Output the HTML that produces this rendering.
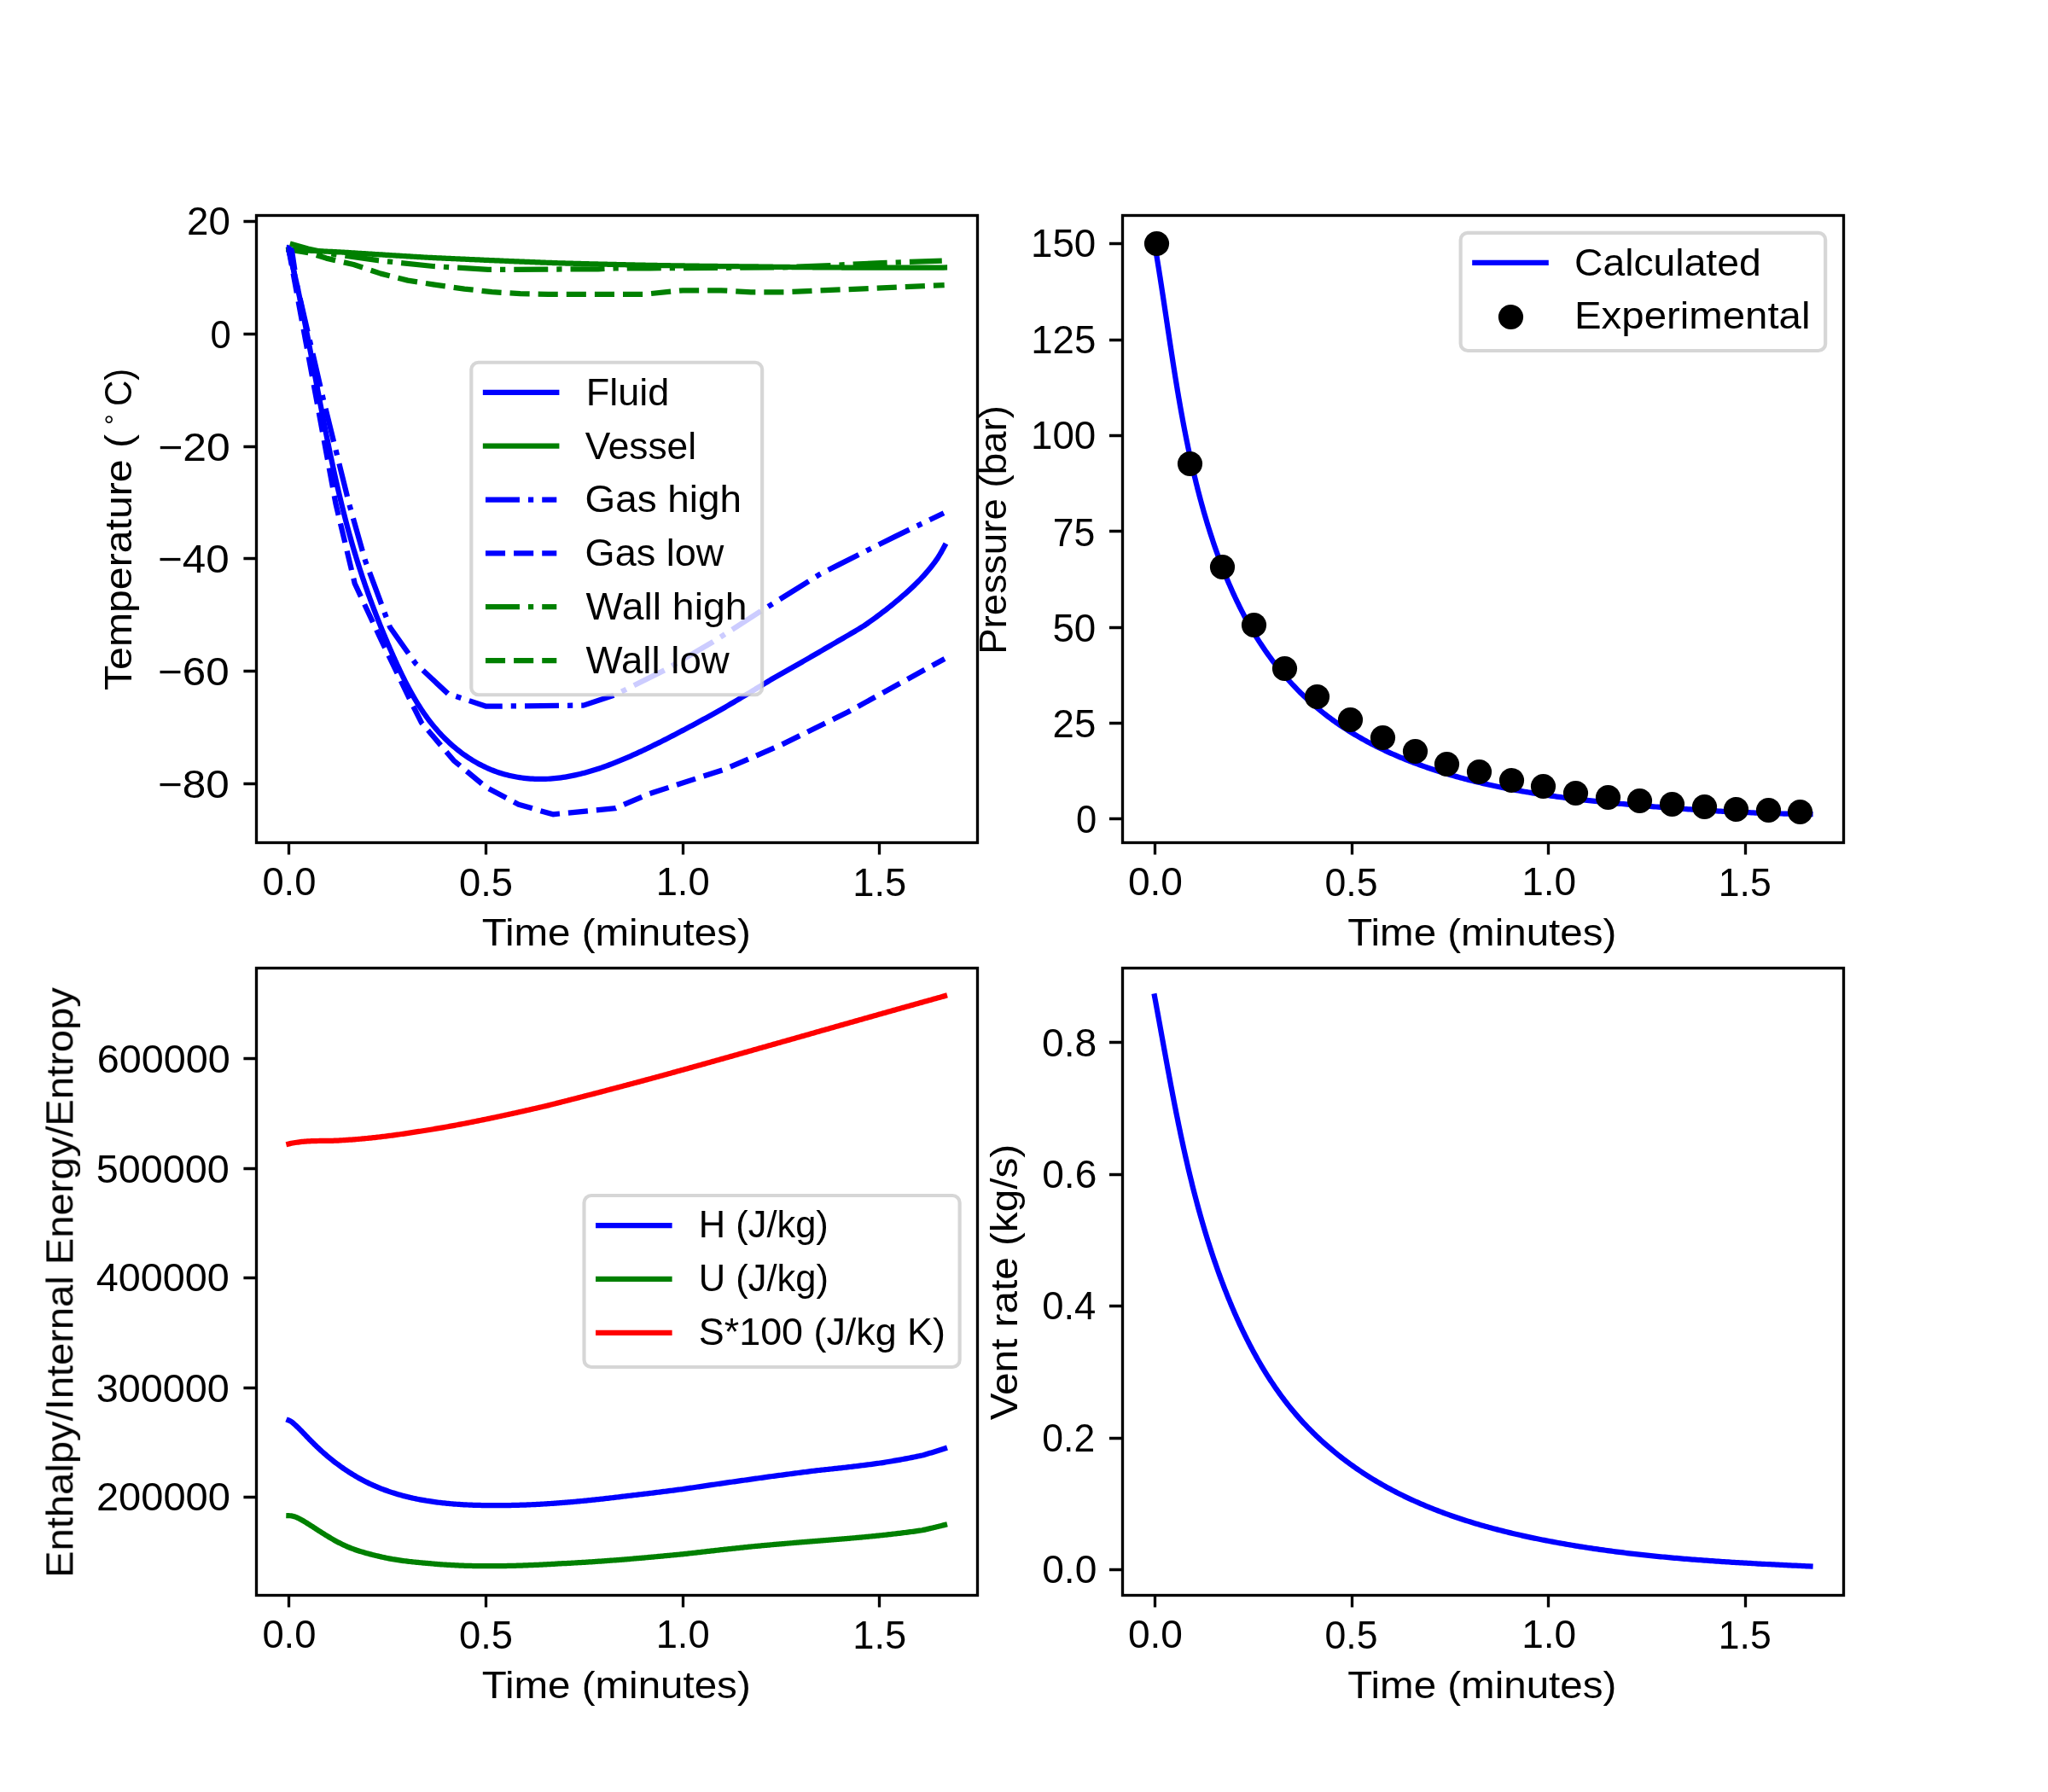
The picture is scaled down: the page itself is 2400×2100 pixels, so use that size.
<!DOCTYPE html>
<html lang="en"><head><meta charset="utf-8"><title>Blowdown validation plots</title>
<style>html,body{margin:0;padding:0;background:#ffffff}svg{display:block}text{font-family:"Liberation Sans",sans-serif;fill:#000000}</style></head>
<body>
<svg xmlns="http://www.w3.org/2000/svg" width="2400" height="2100" viewBox="0 0 2400 2100">
<rect x="0" y="0" width="2400" height="2100" fill="#ffffff"/>
<g id="axes1">
<clipPath id="clip1"><rect x="300" y="252" width="845.45" height="735"/></clipPath>
<path d="M338.5 987V1001.58M569.5 987V1001.58M800.5 987V1001.58M1030.5 987V1001.58M300 918.5H285.42M300 786.5H285.42M300 654.5H285.42M300 523.5H285.42M300 391.5H285.42M300 259.5H285.42" stroke="#000000" stroke-width="3.33" fill="none"/>
<g clip-path="url(#clip1)"><path d="M338.4 292.5 L339.01 295 L339.62 297.5 L340.23 300 L340.83 302.51 L341.43 305.01 L342.02 307.52 L342.61 310.03 L343.19 312.54 L343.77 315.05 L344.35 317.56 L344.92 320.07 L345.49 322.59 L346.06 325.1 L346.62 327.62 L347.18 330.14 L347.73 332.66 L348.28 335.18 L348.83 337.7 L349.37 340.22 L349.92 342.74 L350.45 345.27 L350.99 347.79 L351.52 350.32 L352.05 352.85 L352.58 355.38 L353.1 357.91 L353.62 360.44 L354.14 362.97 L354.66 365.5 L355.18 368.03 L355.69 370.57 L356.2 373.1 L356.7 375.63 L357.21 378.17 L357.71 380.71 L358.22 383.24 L358.72 385.78 L359.21 388.32 L359.71 390.86 L360.21 393.4 L360.7 395.94 L361.19 398.48 L361.68 401.02 L362.17 403.56 L362.66 406.1 L363.15 408.64 L363.63 411.18 L364.12 413.73 L364.6 416.27 L365.09 418.81 L365.57 421.36 L366.05 423.9 L366.53 426.44 L367.01 428.99 L367.49 431.53 L367.97 434.08 L368.45 436.62 L368.93 439.17 L369.41 441.71 L369.89 444.26 L370.37 446.8 L370.85 449.34 L371.33 451.89 L371.81 454.43 L372.29 456.98 L372.77 459.52 L373.26 462.07 L373.74 464.61 L374.22 467.16 L374.71 469.7 L375.19 472.24 L375.68 474.79 L376.16 477.33 L376.65 479.87 L377.14 482.42 L377.63 484.96 L378.12 487.5 L378.61 490.04 L379.11 492.58 L379.6 495.12 L380.1 497.66 L380.6 500.2 L381.1 502.74 L381.6 505.28 L382.11 507.82 L382.61 510.35 L383.12 512.89 L383.63 515.42 L384.15 517.96 L384.66 520.49 L385.18 523.03 L385.7 525.56 L386.22 528.09 L386.75 530.62 L387.28 533.16 L387.81 535.68 L388.34 538.21 L388.88 540.74 L389.42 543.27 L389.96 545.79 L390.51 548.32 L391.06 550.84 L391.61 553.37 L392.17 555.89 L392.73 558.41 L393.29 560.93 L393.86 563.45 L394.43 565.97 L395 568.48 L395.58 571 L396.16 573.51 L396.75 576.02 L397.34 578.53 L397.93 581.04 L398.53 583.55 L399.14 586.06 L399.74 588.57 L400.35 591.07 L400.97 593.57 L401.59 596.08 L402.22 598.58 L402.85 601.07 L403.49 603.57 L404.13 606.07 L404.77 608.56 L405.42 611.05 L406.08 613.54 L406.74 616.03 L407.41 618.52 L408.08 621.01 L408.76 623.49 L409.44 625.97 L410.13 628.45 L410.83 630.93 L411.53 633.41 L412.23 635.88 L412.95 638.36 L413.67 640.83 L414.39 643.3 L415.12 645.76 L415.86 648.23 L416.6 650.69 L417.35 653.15 L418.11 655.61 L418.87 658.07 L419.64 660.52 L420.42 662.98 L421.21 665.43 L422 667.88 L422.79 670.32 L423.6 672.77 L424.41 675.21 L425.22 677.65 L426.04 680.09 L426.87 682.53 L427.71 684.96 L428.55 687.4 L429.4 689.83 L430.26 692.26 L431.12 694.69 L431.99 697.11 L432.87 699.54 L433.75 701.96 L434.64 704.38 L435.53 706.8 L436.43 709.22 L437.34 711.63 L438.25 714.05 L439.17 716.46 L440.1 718.87 L441.03 721.28 L441.97 723.69 L442.92 726.1 L443.87 728.5 L444.83 730.91 L445.8 733.31 L446.77 735.71 L447.75 738.11 L448.73 740.51 L449.72 742.9 L450.72 745.3 L451.73 747.69 L452.74 750.08 L453.75 752.48 L454.77 754.87 L455.8 757.25 L456.84 759.64 L457.88 762.03 L458.93 764.41 L459.98 766.8 L461.04 769.18 L462.11 771.56 L463.18 773.94 L464.26 776.32 L465.35 778.69 L466.45 781.07 L467.55 783.43 L468.67 785.8 L469.79 788.16 L470.93 790.51 L472.08 792.86 L473.24 795.2 L474.41 797.53 L475.59 799.86 L476.79 802.18 L478 804.49 L479.22 806.79 L480.46 809.08 L481.72 811.36 L482.99 813.63 L484.28 815.89 L485.58 818.14 L486.9 820.38 L488.24 822.6 L489.6 824.81 L490.98 827.01 L492.37 829.19 L493.79 831.36 L495.23 833.51 L496.69 835.65 L498.17 837.77 L499.67 839.88 L501.19 841.97 L502.74 844.04 L504.31 846.09 L505.91 848.12 L507.53 850.13 L509.18 852.13 L510.85 854.1 L512.55 856.05 L514.27 857.98 L516.03 859.89 L517.8 861.78 L519.61 863.64 L521.44 865.48 L523.29 867.3 L525.17 869.08 L527.08 870.85 L529.01 872.58 L530.96 874.29 L532.94 875.97 L534.94 877.62 L536.96 879.24 L539 880.83 L541.07 882.39 L543.16 883.92 L545.27 885.41 L547.4 886.87 L549.56 888.3 L551.73 889.7 L553.92 891.05 L556.13 892.37 L558.37 893.66 L560.62 894.91 L562.89 896.12 L565.18 897.29 L567.48 898.42 L569.81 899.51 L572.15 900.56 L574.51 901.57 L576.88 902.54 L579.28 903.46 L581.68 904.34 L584.11 905.18 L586.54 905.97 L589 906.72 L591.46 907.42 L593.94 908.08 L596.42 908.7 L598.92 909.28 L601.43 909.81 L603.94 910.31 L606.47 910.76 L608.99 911.16 L611.53 911.53 L614.07 911.85 L616.61 912.14 L619.16 912.38 L621.71 912.58 L624.26 912.74 L626.82 912.86 L629.37 912.94 L631.92 912.98 L634.47 912.98 L637.02 912.94 L639.56 912.87 L642.11 912.75 L644.65 912.6 L647.19 912.41 L649.73 912.19 L652.27 911.93 L654.8 911.64 L657.33 911.31 L659.86 910.95 L662.39 910.56 L664.91 910.13 L667.43 909.68 L669.95 909.19 L672.47 908.68 L674.98 908.14 L677.49 907.56 L680 906.96 L682.5 906.34 L685 905.69 L687.5 905.01 L689.99 904.3 L692.48 903.58 L694.97 902.83 L697.45 902.05 L699.93 901.26 L702.4 900.44 L704.88 899.6 L707.34 898.74 L709.81 897.86 L712.27 896.97 L714.72 896.05 L717.17 895.12 L719.62 894.17 L722.06 893.2 L724.5 892.22 L726.93 891.23 L729.36 890.21 L731.78 889.19 L734.2 888.15 L736.61 887.11 L739.02 886.04 L741.43 884.97 L743.83 883.89 L746.22 882.8 L748.61 881.7 L750.99 880.59 L753.37 879.48 L755.74 878.36 L758.1 877.23 L760.46 876.09 L762.82 874.96 L765.16 873.81 L767.51 872.66 L769.84 871.51 L772.18 870.35 L774.5 869.19 L776.82 868.03 L779.14 866.85 L781.45 865.68 L783.76 864.5 L786.06 863.31 L788.36 862.13 L790.65 860.93 L792.94 859.74 L795.22 858.53 L797.51 857.33 L799.78 856.12 L802.05 854.93 L804.32 853.74 L806.59 852.55 L808.85 851.35 L811.11 850.15 L813.36 848.94 L815.61 847.73 L817.86 846.52 L820.1 845.31 L822.34 844.09 L824.58 842.86 L826.82 841.64 L829.05 840.41 L831.28 839.17 L833.51 837.94 L835.74 836.7 L837.96 835.45 L840.19 834.21 L842.41 832.96 L844.62 831.71 L846.84 830.45 L849.06 829.19 L851.27 827.91 L853.48 826.61 L855.69 825.31 L857.9 824 L860.11 822.69 L862.32 821.38 L864.52 820.06 L866.73 818.75 L868.93 817.43 L871.14 816.1 L873.34 814.78 L875.55 813.45 L877.75 812.13 L879.95 810.8 L882.16 809.46 L884.36 808.13 L886.56 806.79 L888.77 805.45 L890.97 804.11 L893.18 802.77 L895.38 801.43 L897.59 800.08 L899.79 798.74 L902 797.39 L904.21 796.04 L906.42 794.75 L908.63 793.51 L910.84 792.26 L913.05 791 L915.26 789.75 L917.47 788.5 L919.68 787.24 L921.89 785.99 L924.1 784.73 L926.32 783.47 L928.53 782.21 L930.74 780.95 L932.96 779.69 L935.17 778.43 L937.38 777.17 L939.6 775.91 L941.81 774.64 L944.03 773.38 L946.24 772.11 L948.46 770.84 L950.67 769.56 L952.88 768.27 L955.1 766.99 L957.31 765.7 L959.53 764.42 L961.74 763.13 L963.96 761.85 L966.17 760.56 L968.39 759.27 L970.6 757.99 L972.81 756.7 L975.03 755.41 L977.24 754.13 L979.46 752.84 L981.67 751.55 L983.88 750.27 L986.09 748.98 L988.3 747.69 L990.52 746.41 L992.72 745.12 L994.93 743.83 L997.14 742.53 L999.34 741.24 L1001.54 739.94 L1003.73 738.63 L1005.92 737.33 L1008.11 736.01 L1010.29 734.69 L1012.47 733.37 L1014.64 731.87 L1016.8 730.34 L1018.96 728.81 L1021.12 727.28 L1023.26 725.73 L1025.4 724.18 L1027.53 722.62 L1029.65 721.04 L1031.76 719.46 L1033.87 717.87 L1035.96 716.27 L1038.04 714.66 L1040.12 713.03 L1042.18 711.39 L1044.23 709.74 L1046.27 708.08 L1048.3 706.4 L1050.32 704.71 L1052.32 703.01 L1054.31 701.29 L1056.29 699.58 L1058.25 697.93 L1060.2 696.26 L1062.13 694.57 L1064.04 692.87 L1065.95 691.14 L1067.83 689.4 L1069.7 687.64 L1071.55 685.87 L1073.38 684.07 L1075.19 682.25 L1076.99 680.42 L1078.77 678.56 L1080.53 676.69 L1082.26 674.79 L1083.98 672.87 L1085.68 670.93 L1087.35 668.97 L1089.01 666.98 L1090.64 664.98 L1092.25 662.95 L1093.83 660.89 L1095.4 658.81 L1096.93 656.71 L1098.45 654.58 L1099.94 652.2 L1101.4 649.76 L1102.84 647.3 L1104.25 644.82 L1105.64 642.32 L1107 639.8" fill="none" stroke="#0000ff" stroke-width="6.25" stroke-linecap="square" stroke-linejoin="round"/>
<path d="M338.4 292.5 L339.94 292.57 L341.48 292.65 L343.02 292.73 L344.56 292.8 L346.09 292.88 L347.63 292.95 L349.17 293.03 L350.71 293.1 L352.25 293.18 L353.79 293.25 L355.33 293.33 L356.87 293.4 L358.41 293.48 L359.95 293.55 L361.48 293.63 L363.02 293.7 L364.56 293.78 L366.1 293.85 L367.64 293.93 L369.18 294 L370.72 294.08 L372.26 294.15 L373.8 294.23 L375.34 294.3 L376.87 294.38 L378.41 294.45 L379.95 294.53 L381.49 294.6 L383.03 294.68 L384.57 294.75 L386.11 294.83 L387.65 294.9 L389.19 294.98 L390.73 295.05 L392.27 295.12 L393.8 295.2 L395.34 295.27 L396.88 295.35 L398.42 295.42 L399.96 295.5 L401.5 295.59 L403.04 295.69 L404.58 295.79 L406.12 295.88 L407.66 295.98 L409.2 296.08 L410.74 296.18 L412.27 296.27 L413.81 296.37 L415.35 296.47 L416.89 296.56 L418.43 296.66 L419.97 296.76 L421.51 296.85 L423.05 296.95 L424.59 297.05 L426.13 297.14 L427.67 297.24 L429.21 297.33 L430.74 297.43 L432.28 297.53 L433.82 297.62 L435.36 297.72 L436.9 297.81 L438.44 297.91 L439.98 298.01 L441.52 298.1 L443.06 298.2 L444.6 298.29 L446.14 298.39 L447.68 298.48 L449.22 298.58 L450.76 298.68 L452.29 298.77 L453.83 298.87 L455.37 298.96 L456.91 299.06 L458.45 299.15 L459.99 299.25 L461.53 299.34 L463.07 299.43 L464.61 299.53 L466.15 299.62 L467.69 299.72 L469.23 299.81 L470.77 299.91 L472.31 300 L473.85 300.1 L475.38 300.19 L476.92 300.28 L478.46 300.38 L480 300.47 L481.54 300.56 L483.08 300.66 L484.62 300.75 L486.16 300.84 L487.7 300.94 L489.24 301.03 L490.78 301.12 L492.32 301.22 L493.86 301.31 L495.4 301.4 L496.94 301.5 L498.48 301.59 L500.02 301.68 L501.55 301.75 L503.09 301.83 L504.63 301.9 L506.17 301.97 L507.71 302.04 L509.25 302.11 L510.79 302.19 L512.33 302.26 L513.87 302.33 L515.41 302.4 L516.95 302.47 L518.49 302.54 L520.03 302.61 L521.57 302.68 L523.11 302.76 L524.65 302.83 L526.19 302.9 L527.73 302.97 L529.27 303.04 L530.81 303.11 L532.35 303.18 L533.89 303.25 L535.42 303.32 L536.96 303.39 L538.5 303.46 L540.04 303.53 L541.58 303.6 L543.12 303.67 L544.66 303.74 L546.2 303.81 L547.74 303.87 L549.28 303.94 L550.82 304.01 L552.36 304.08 L553.9 304.15 L555.44 304.22 L556.98 304.29 L558.52 304.35 L560.06 304.42 L561.6 304.49 L563.14 304.56 L564.68 304.62 L566.22 304.69 L567.76 304.76 L569.3 304.83 L570.84 304.89 L572.38 304.96 L573.92 305.03 L575.46 305.09 L577 305.16 L578.54 305.23 L580.08 305.29 L581.62 305.36 L583.16 305.42 L584.69 305.49 L586.23 305.56 L587.77 305.62 L589.31 305.69 L590.85 305.75 L592.39 305.82 L593.93 305.88 L595.47 305.95 L597.01 306.01 L598.55 306.08 L600.09 306.14 L601.63 306.2 L603.17 306.27 L604.71 306.33 L606.25 306.4 L607.79 306.46 L609.33 306.52 L610.87 306.58 L612.41 306.65 L613.95 306.71 L615.49 306.77 L617.03 306.84 L618.57 306.9 L620.11 306.96 L621.65 307.02 L623.19 307.08 L624.73 307.15 L626.27 307.21 L627.81 307.27 L629.35 307.33 L630.89 307.39 L632.43 307.45 L633.97 307.51 L635.51 307.57 L637.05 307.63 L638.59 307.69 L640.13 307.75 L641.67 307.81 L643.21 307.87 L644.75 307.93 L646.29 307.99 L647.83 308.05 L649.37 308.11 L650.91 308.16 L652.45 308.2 L653.99 308.25 L655.53 308.29 L657.07 308.34 L658.61 308.38 L660.15 308.42 L661.69 308.47 L663.23 308.51 L664.77 308.55 L666.31 308.59 L667.85 308.64 L669.39 308.68 L670.93 308.72 L672.47 308.76 L674.01 308.8 L675.55 308.85 L677.09 308.89 L678.63 308.93 L680.17 308.97 L681.71 309.01 L683.25 309.05 L684.79 309.09 L686.33 309.13 L687.87 309.17 L689.41 309.21 L690.95 309.25 L692.49 309.29 L694.03 309.33 L695.58 309.37 L697.12 309.4 L698.66 309.44 L700.2 309.48 L701.74 309.52 L703.28 309.56 L704.82 309.59 L706.36 309.63 L707.9 309.67 L709.44 309.71 L710.98 309.74 L712.52 309.78 L714.06 309.82 L715.6 309.85 L717.14 309.89 L718.68 309.92 L720.22 309.96 L721.76 309.99 L723.3 310.03 L724.84 310.06 L726.38 310.1 L727.92 310.13 L729.46 310.17 L731 310.2 L732.54 310.24 L734.08 310.27 L735.62 310.3 L737.16 310.34 L738.7 310.37 L740.24 310.4 L741.78 310.43 L743.33 310.47 L744.87 310.5 L746.41 310.53 L747.95 310.56 L749.49 310.59 L751.03 310.63 L752.57 310.66 L754.11 310.69 L755.65 310.72 L757.19 310.75 L758.73 310.78 L760.27 310.81 L761.81 310.84 L763.35 310.86 L764.89 310.89 L766.43 310.92 L767.97 310.95 L769.51 310.97 L771.05 311 L772.59 311.03 L774.13 311.05 L775.68 311.08 L777.22 311.11 L778.76 311.13 L780.3 311.16 L781.84 311.18 L783.38 311.21 L784.92 311.23 L786.46 311.26 L788 311.28 L789.54 311.31 L791.08 311.33 L792.62 311.36 L794.16 311.38 L795.7 311.4 L797.24 311.43 L798.78 311.45 L800.32 311.47 L801.87 311.49 L803.41 311.52 L804.95 311.54 L806.49 311.56 L808.03 311.58 L809.57 311.6 L811.11 311.63 L812.65 311.65 L814.19 311.67 L815.73 311.69 L817.27 311.71 L818.81 311.73 L820.35 311.75 L821.89 311.77 L823.43 311.79 L824.98 311.81 L826.52 311.83 L828.06 311.85 L829.6 311.87 L831.14 311.88 L832.68 311.9 L834.22 311.92 L835.76 311.94 L837.3 311.96 L838.84 311.97 L840.38 311.99 L841.92 312.01 L843.46 312.02 L845.01 312.04 L846.55 312.06 L848.09 312.07 L849.63 312.09 L851.17 312.11 L852.71 312.12 L854.25 312.14 L855.79 312.15 L857.33 312.17 L858.87 312.18 L860.41 312.2 L861.95 312.21 L863.5 312.22 L865.04 312.24 L866.58 312.25 L868.12 312.26 L869.66 312.28 L871.2 312.29 L872.74 312.3 L874.28 312.31 L875.82 312.33 L877.36 312.34 L878.9 312.35 L880.44 312.37 L881.99 312.39 L883.53 312.41 L885.07 312.44 L886.61 312.46 L888.15 312.48 L889.69 312.51 L891.23 312.53 L892.77 312.55 L894.31 312.58 L895.85 312.6 L897.39 312.62 L898.94 312.64 L900.48 312.66 L902.02 312.68 L903.56 312.71 L905.1 312.73 L906.64 312.75 L908.18 312.77 L909.72 312.79 L911.26 312.81 L912.8 312.83 L914.35 312.85 L915.89 312.87 L917.43 312.89 L918.97 312.9 L920.51 312.92 L922.05 312.94 L923.59 312.96 L925.13 312.98 L926.67 313 L928.21 313.01 L929.76 313.03 L931.3 313.05 L932.84 313.06 L934.38 313.08 L935.92 313.1 L937.46 313.11 L939 313.13 L940.54 313.14 L942.08 313.16 L943.63 313.18 L945.17 313.19 L946.71 313.21 L948.25 313.22 L949.79 313.23 L951.33 313.25 L952.87 313.26 L954.41 313.28 L955.95 313.29 L957.5 313.3 L959.04 313.32 L960.58 313.33 L962.12 313.34 L963.66 313.35 L965.2 313.37 L966.74 313.38 L968.28 313.39 L969.82 313.4 L971.37 313.41 L972.91 313.42 L974.45 313.43 L975.99 313.44 L977.53 313.45 L979.07 313.46 L980.61 313.47 L982.15 313.48 L983.69 313.49 L985.24 313.5 L986.78 313.51 L988.32 313.52 L989.86 313.53 L991.4 313.54 L992.94 313.55 L994.48 313.55 L996.02 313.56 L997.57 313.57 L999.11 313.58 L1000.65 313.58 L1002.19 313.59 L1003.73 313.6 L1005.27 313.6 L1006.81 313.61 L1008.35 313.61 L1009.9 313.62 L1011.44 313.62 L1012.98 313.63 L1014.52 313.63 L1016.06 313.64 L1017.6 313.64 L1019.14 313.65 L1020.68 313.65 L1022.23 313.65 L1023.77 313.66 L1025.31 313.66 L1026.85 313.66 L1028.39 313.67 L1029.93 313.67 L1031.47 313.67 L1033.01 313.67 L1034.56 313.68 L1036.1 313.68 L1037.64 313.68 L1039.18 313.68 L1040.72 313.68 L1042.26 313.68 L1043.8 313.68 L1045.34 313.68 L1046.89 313.68 L1048.43 313.68 L1049.97 313.68 L1051.51 313.68 L1053.05 313.68 L1054.59 313.68 L1056.13 313.68 L1057.68 313.68 L1059.22 313.67 L1060.76 313.67 L1062.3 313.67 L1063.84 313.67 L1065.38 313.66 L1066.92 313.66 L1068.47 313.66 L1070.01 313.65 L1071.55 313.65 L1073.09 313.65 L1074.63 313.64 L1076.17 313.64 L1077.71 313.63 L1079.25 313.63 L1080.8 313.62 L1082.34 313.62 L1083.88 313.61 L1085.42 313.61 L1086.96 313.6 L1088.5 313.59 L1090.04 313.59 L1091.59 313.58 L1093.13 313.57 L1094.67 313.57 L1096.21 313.56 L1097.75 313.55 L1099.29 313.54 L1100.83 313.54 L1102.38 313.53 L1103.92 313.52 L1105.46 313.51 L1107 313.5" fill="none" stroke="#008000" stroke-width="6.25" stroke-linecap="square" stroke-linejoin="round"/>
<path d="M338.4 292.5 L378.6 467 L409 590 L428 657 L457 735 L487 777.5 L525 813 L569.7 827.7 L683.75 826.6 L721.25 814.1 L779 785.2 L835.3 752.3 L890 717.2 L960 673.4 L983.2 661.6 L1050.2 628.1 L1106 601.3" fill="none" stroke="#0000ff" stroke-width="6.25" stroke-linecap="butt" stroke-linejoin="round" stroke-dasharray="40 10 6.25 10" stroke-dashoffset="7.5"/>
<path d="M338.4 292.5 L362 420 L393.4 590 L415.7 683.75 L447 750.7 L478.2 815.4 L493.8 846.7 L531.8 891.3 L569.7 922.6 L607.7 942.7 L647.9 954.3 L721.5 947.1 L760 930.5 L849.3 901.5 L916.3 872.5 L993.4 834.5 L1107 772" fill="none" stroke="#0000ff" stroke-width="6.25" stroke-linecap="butt" stroke-linejoin="round" stroke-dasharray="23.12 10" stroke-dashoffset="4.6"/>
<path d="M339.8 285.4 L361 291.5 L387.4 297.3 L443 305.2 L507.5 312 L572.2 315.9 L701 315.3 L720 314.5 L915 313.4 L974 311 L1032.5 308.1 L1103.8 305.7" fill="none" stroke="#008000" stroke-width="6.25" stroke-linecap="butt" stroke-linejoin="round" stroke-dasharray="40 10 6.25 10"/>
<path d="M338.4 292.5 L363 296.5 L382.3 302.6 L414.4 310 L446.2 320.6 L477.9 328.6 L511 333.9 L544.3 338.6 L576.5 342.1 L609.7 344.2 L642.5 344.8 L755 344.8 L800 340.3 L845 340.3 L880 342.3 L920 342.3 L1106.7 334.1" fill="none" stroke="#008000" stroke-width="6.25" stroke-linecap="butt" stroke-linejoin="round" stroke-dasharray="23.12 10"/>
<path d="M335.9 287.1L337.7 286.8 344.7 291.8 345.6 296.5 348.5 316 341.8 316 336.8 296.5 335.9 289.2Z" fill="#0000ff"/></g>
<rect x="300.5" y="252.5" width="845" height="735" fill="none" stroke="#000000" stroke-width="3.33" stroke-linejoin="miter"/>
<rect x="552.29" y="424.75" width="340.88" height="389.5" rx="8.33" ry="8.33" fill="#ffffff" fill-opacity="0.8" stroke="#cccccc" stroke-opacity="0.8" stroke-width="4.17"/>
<path d="M568.96 459.83 L652.29 459.83" fill="none" stroke="#0000ff" stroke-width="6.25" stroke-linecap="square" stroke-linejoin="round"/>
<path d="M568.96 522.67 L652.29 522.67" fill="none" stroke="#008000" stroke-width="6.25" stroke-linecap="square" stroke-linejoin="round"/>
<path d="M568.96 585.5 L652.29 585.5" fill="none" stroke="#0000ff" stroke-width="6.25" stroke-linecap="butt" stroke-linejoin="round" stroke-dasharray="40 10 6.25 10"/>
<path d="M568.96 648.33 L652.29 648.33" fill="none" stroke="#0000ff" stroke-width="6.25" stroke-linecap="butt" stroke-linejoin="round" stroke-dasharray="23.12 10"/>
<path d="M568.96 711.17 L652.29 711.17" fill="none" stroke="#008000" stroke-width="6.25" stroke-linecap="butt" stroke-linejoin="round" stroke-dasharray="40 10 6.25 10"/>
<path d="M568.96 774 L652.29 774" fill="none" stroke="#008000" stroke-width="6.25" stroke-linecap="butt" stroke-linejoin="round" stroke-dasharray="23.12 10"/>
</g>
<g id="axes2">
<clipPath id="clip2"><rect x="1314.55" y="252" width="845.45" height="735"/></clipPath>
<path d="M1353.5 987V1001.58M1584.5 987V1001.58M1814.5 987V1001.58M2045.5 987V1001.58M1314.55 959.5H1299.96M1314.55 847.5H1299.96M1314.55 735.5H1299.96M1314.55 622.5H1299.96M1314.55 510.5H1299.96M1314.55 398.5H1299.96M1314.55 285.5H1299.96" stroke="#000000" stroke-width="3.33" fill="none"/>
<g clip-path="url(#clip2)"><path d="M1353 285.4 L1353.4 287.75 L1353.8 290.09 L1354.19 292.44 L1354.59 294.79 L1354.98 297.14 L1355.37 299.49 L1355.75 301.84 L1356.14 304.19 L1356.52 306.54 L1356.9 308.89 L1357.28 311.24 L1357.66 313.59 L1358.03 315.95 L1358.41 318.3 L1358.78 320.65 L1359.15 323.01 L1359.52 325.36 L1359.88 327.72 L1360.25 330.07 L1360.62 332.43 L1360.98 334.78 L1361.34 337.14 L1361.7 339.49 L1362.06 341.85 L1362.42 344.21 L1362.78 346.57 L1363.14 348.92 L1363.5 351.28 L1363.85 353.64 L1364.21 356 L1364.56 358.36 L1364.92 360.71 L1365.27 363.07 L1365.63 365.43 L1365.98 367.79 L1366.33 370.15 L1366.69 372.51 L1367.04 374.87 L1367.39 377.23 L1367.75 379.59 L1368.1 381.95 L1368.45 384.31 L1368.81 386.67 L1369.16 389.02 L1369.52 391.38 L1369.87 393.74 L1370.23 396.1 L1370.58 398.46 L1370.94 400.82 L1371.3 403.18 L1371.66 405.54 L1372.02 407.9 L1372.38 410.26 L1372.74 412.62 L1373.1 414.98 L1373.46 417.33 L1373.83 419.69 L1374.19 422.05 L1374.56 424.41 L1374.93 426.77 L1375.3 429.12 L1375.67 431.48 L1376.04 433.84 L1376.42 436.19 L1376.79 438.55 L1377.17 440.91 L1377.55 443.26 L1377.93 445.62 L1378.32 447.97 L1378.7 450.32 L1379.09 452.68 L1379.48 455.03 L1379.87 457.39 L1380.27 459.74 L1380.66 462.09 L1381.06 464.44 L1381.46 466.79 L1381.87 469.14 L1382.28 471.5 L1382.69 473.84 L1383.1 476.19 L1383.51 478.54 L1383.93 480.89 L1384.35 483.24 L1384.78 485.59 L1385.21 487.93 L1385.64 490.28 L1386.07 492.62 L1386.51 494.97 L1386.95 497.31 L1387.39 499.65 L1387.84 502 L1388.29 504.34 L1388.75 506.68 L1389.21 509.02 L1389.67 511.36 L1390.13 513.7 L1390.6 516.04 L1391.08 518.37 L1391.56 520.71 L1392.04 523.04 L1392.52 525.38 L1393.02 527.71 L1393.51 530.04 L1394.01 532.38 L1394.51 534.71 L1395.02 537.04 L1395.53 539.37 L1396.05 541.7 L1396.57 544.02 L1397.1 546.35 L1397.63 548.67 L1398.17 551 L1398.71 553.32 L1399.26 555.64 L1399.81 557.96 L1400.37 560.28 L1400.93 562.6 L1401.5 564.92 L1402.07 567.24 L1402.65 569.55 L1403.23 571.87 L1403.82 574.18 L1404.42 576.49 L1405.02 578.81 L1405.62 581.11 L1406.23 583.42 L1406.85 585.73 L1407.48 588.04 L1408.11 590.34 L1408.74 592.65 L1409.39 594.95 L1410.03 597.25 L1410.69 599.55 L1411.35 601.85 L1412.02 604.14 L1412.69 606.44 L1413.37 608.73 L1414.06 611.03 L1414.76 613.32 L1415.46 615.61 L1416.16 617.9 L1416.88 620.18 L1417.6 622.47 L1418.33 624.75 L1419.06 627.04 L1419.81 629.32 L1420.56 631.6 L1421.31 633.88 L1422.08 636.15 L1422.85 638.43 L1423.63 640.7 L1424.42 642.97 L1425.21 645.24 L1426.02 647.51 L1426.83 649.78 L1427.65 652.04 L1428.47 654.3 L1429.31 656.56 L1430.15 658.81 L1431 661.07 L1431.86 663.32 L1432.73 665.56 L1433.61 667.81 L1434.49 670.05 L1435.38 672.28 L1436.29 674.51 L1437.2 676.74 L1438.12 678.97 L1439.05 681.19 L1439.99 683.41 L1440.94 685.62 L1441.89 687.83 L1442.86 690.03 L1443.84 692.23 L1444.82 694.42 L1445.82 696.61 L1446.82 698.79 L1447.84 700.97 L1448.86 703.15 L1449.9 705.31 L1450.95 707.48 L1452 709.63 L1453.07 711.78 L1454.14 713.93 L1455.23 716.06 L1456.33 718.19 L1457.44 720.32 L1458.55 722.44 L1459.68 724.55 L1460.82 726.65 L1461.98 728.75 L1463.14 730.84 L1464.31 732.93 L1465.5 735 L1466.69 737.07 L1467.9 739.13 L1469.12 741.19 L1470.35 743.23 L1471.59 745.27 L1472.85 747.3 L1474.12 749.32 L1475.39 751.33 L1476.68 753.33 L1477.99 755.33 L1479.3 757.31 L1480.63 759.29 L1481.97 761.26 L1483.32 763.22 L1484.68 765.16 L1486.06 767.1 L1487.45 769.03 L1488.85 770.95 L1490.27 772.86 L1491.69 774.76 L1493.13 776.65 L1494.58 778.53 L1496.05 780.4 L1497.52 782.26 L1499.01 784.11 L1500.51 785.95 L1502.02 787.78 L1503.55 789.59 L1505.08 791.4 L1506.63 793.19 L1508.19 794.98 L1509.77 796.75 L1511.35 798.51 L1512.95 800.26 L1514.55 802 L1516.17 803.72 L1517.8 805.44 L1519.45 807.14 L1521.1 808.83 L1522.77 810.51 L1524.44 812.17 L1526.13 813.83 L1527.83 815.47 L1529.54 817.1 L1531.27 818.71 L1533 820.32 L1534.75 821.9 L1536.5 823.48 L1538.27 825.05 L1540.05 826.6 L1541.84 828.13 L1543.64 829.66 L1545.45 831.17 L1547.28 832.66 L1549.11 834.15 L1550.96 835.62 L1552.81 837.07 L1554.68 838.51 L1556.55 839.94 L1558.44 841.35 L1560.34 842.75 L1562.25 844.14 L1564.17 845.51 L1566.09 846.87 L1568.03 848.22 L1569.98 849.55 L1571.94 850.87 L1573.9 852.18 L1575.88 853.47 L1577.86 854.75 L1579.86 856.02 L1581.86 857.28 L1583.87 858.52 L1585.89 859.75 L1587.92 860.97 L1589.96 862.17 L1592.01 863.36 L1594.06 864.54 L1596.12 865.71 L1598.2 866.87 L1600.27 868.01 L1602.36 869.14 L1604.46 870.26 L1606.56 871.37 L1608.67 872.46 L1610.78 873.55 L1612.91 874.62 L1615.04 875.68 L1617.18 876.73 L1619.32 877.77 L1621.47 878.8 L1623.63 879.81 L1625.79 880.82 L1627.97 881.81 L1630.14 882.79 L1632.33 883.76 L1634.51 884.72 L1636.71 885.67 L1638.91 886.61 L1641.12 887.54 L1643.33 888.45 L1645.55 889.36 L1647.77 890.26 L1650 891.14 L1652.23 892.02 L1654.47 892.88 L1656.71 893.74 L1658.96 894.58 L1661.21 895.42 L1663.47 896.24 L1665.73 897.06 L1667.99 897.86 L1670.26 898.66 L1672.54 899.45 L1674.81 900.22 L1677.09 900.99 L1679.38 901.75 L1681.67 902.5 L1683.96 903.23 L1686.25 903.96 L1688.55 904.68 L1690.85 905.4 L1693.15 906.1 L1695.46 906.79 L1697.77 907.48 L1700.08 908.15 L1702.39 908.82 L1704.71 909.48 L1707.03 910.13 L1709.35 910.77 L1711.67 911.41 L1714 912.03 L1716.32 912.65 L1718.65 913.26 L1720.98 913.86 L1723.31 914.45 L1725.64 915.04 L1727.97 915.62 L1730.31 916.18 L1732.64 916.75 L1734.98 917.3 L1737.32 917.85 L1739.65 918.39 L1741.99 918.92 L1744.33 919.44 L1746.67 919.96 L1749.02 920.47 L1751.36 920.98 L1753.7 921.47 L1756.05 921.96 L1758.39 922.44 L1760.74 922.92 L1763.09 923.39 L1765.44 923.85 L1767.79 924.31 L1770.14 924.76 L1772.49 925.2 L1774.84 925.64 L1777.19 926.07 L1779.54 926.5 L1781.9 926.92 L1784.25 927.33 L1786.61 927.74 L1788.97 928.14 L1791.32 928.53 L1793.68 928.92 L1796.04 929.31 L1798.4 929.69 L1800.76 930.06 L1803.12 930.43 L1805.48 930.79 L1807.84 931.15 L1810.2 931.51 L1812.56 931.86 L1814.93 932.2 L1817.29 932.54 L1819.66 932.87 L1822.02 933.2 L1824.39 933.53 L1826.75 933.85 L1829.12 934.16 L1831.48 934.48 L1833.85 934.78 L1836.22 935.09 L1838.59 935.39 L1840.95 935.68 L1843.32 935.97 L1845.69 936.26 L1848.06 936.54 L1850.43 936.82 L1852.8 937.1 L1855.17 937.37 L1857.54 937.64 L1859.91 937.91 L1862.28 938.17 L1864.65 938.43 L1867.02 938.69 L1869.4 938.94 L1871.77 939.19 L1874.14 939.44 L1876.51 939.69 L1878.88 939.93 L1881.26 940.17 L1883.63 940.41 L1886 940.64 L1888.37 940.87 L1890.75 941.1 L1893.12 941.33 L1895.49 941.56 L1897.86 941.78 L1900.24 942 L1902.61 942.22 L1904.98 942.44 L1907.35 942.65 L1909.73 942.87 L1912.1 943.08 L1914.47 943.29 L1916.84 943.5 L1919.22 943.71 L1921.59 943.91 L1923.96 944.12 L1926.33 944.32 L1928.7 944.52 L1931.08 944.72 L1933.45 944.92 L1935.82 945.11 L1938.19 945.31 L1940.57 945.5 L1942.94 945.69 L1945.31 945.88 L1947.68 946.07 L1950.06 946.25 L1952.43 946.43 L1954.8 946.61 L1957.17 946.79 L1959.55 946.97 L1961.92 947.15 L1964.29 947.32 L1966.66 947.49 L1969.04 947.66 L1971.41 947.83 L1973.78 948 L1976.16 948.16 L1978.53 948.32 L1980.9 948.48 L1983.28 948.64 L1985.65 948.8 L1988.03 948.95 L1990.4 949.1 L1992.78 949.25 L1995.15 949.4 L1997.53 949.55 L1999.9 949.69 L2002.28 949.84 L2004.65 949.98 L2007.03 950.11 L2009.4 950.25 L2011.78 950.38 L2014.16 950.52 L2016.53 950.65 L2018.91 950.77 L2021.29 950.9 L2023.67 951.02 L2026.05 951.14 L2028.42 951.26 L2030.8 951.38 L2033.18 951.49 L2035.56 951.61 L2037.94 951.72 L2040.32 951.82 L2042.7 951.93 L2045.08 952.03 L2047.46 952.13 L2049.84 952.23 L2052.23 952.33 L2054.61 952.42 L2056.99 952.52 L2059.37 952.61 L2061.76 952.69 L2064.14 952.78 L2066.53 952.86 L2068.91 952.94 L2071.3 953.02 L2073.68 953.1 L2076.07 953.17 L2078.45 953.24 L2080.84 953.31 L2083.23 953.38 L2085.62 953.44 L2088.01 953.5 L2090.39 953.56 L2092.78 953.62 L2095.17 953.67 L2097.56 953.72 L2099.96 953.77 L2102.35 953.82 L2104.74 953.86 L2107.13 953.9 L2109.53 953.94 L2111.92 953.98 L2114.31 954.01 L2116.71 954.04 L2119.1 954.07 L2121.5 954.1" fill="none" stroke="#0000ff" stroke-width="6.25" stroke-linecap="square" stroke-linejoin="round"/>
<g fill="#000000"><circle cx="1355.5" cy="285.5" r="14.58"/><circle cx="1394.5" cy="543.5" r="14.58"/><circle cx="1432.5" cy="664.5" r="14.58"/><circle cx="1469.5" cy="732.5" r="14.58"/><circle cx="1505.5" cy="783.5" r="14.58"/><circle cx="1543.5" cy="816.5" r="14.58"/><circle cx="1582.5" cy="843.5" r="14.58"/><circle cx="1620.5" cy="864.5" r="14.58"/><circle cx="1658.5" cy="880.5" r="14.58"/><circle cx="1695.5" cy="895.5" r="14.58"/><circle cx="1733.5" cy="904.5" r="14.58"/><circle cx="1771.5" cy="914.5" r="14.58"/><circle cx="1808.5" cy="921.5" r="14.58"/><circle cx="1846.5" cy="929.5" r="14.58"/><circle cx="1884.5" cy="934.5" r="14.58"/><circle cx="1921.5" cy="938.5" r="14.58"/><circle cx="1959.5" cy="942.5" r="14.58"/><circle cx="1997.5" cy="945.5" r="14.58"/><circle cx="2034.5" cy="948.5" r="14.58"/><circle cx="2072.5" cy="949.5" r="14.58"/><circle cx="2109.5" cy="951.5" r="14.58"/></g></g>
<rect x="1315.5" y="252.5" width="845" height="735" fill="none" stroke="#000000" stroke-width="3.33" stroke-linejoin="miter"/>
<rect x="1711.67" y="272.83" width="427.5" height="138.17" rx="8.33" ry="8.33" fill="#ffffff" fill-opacity="0.8" stroke="#cccccc" stroke-opacity="0.8" stroke-width="4.17"/>
<path d="M1728.33 307.92 L1811.67 307.92" fill="none" stroke="#0000ff" stroke-width="6.25" stroke-linecap="square" stroke-linejoin="round"/>
<circle cx="1770.5" cy="371.5" r="14.58" fill="#000000"/>
</g>
<g id="axes3">
<clipPath id="clip3"><rect x="300" y="1134" width="845.45" height="735"/></clipPath>
<path d="M338.5 1869V1883.58M569.5 1869V1883.58M800.5 1869V1883.58M1030.5 1869V1883.58M300 1754.5H285.42M300 1626.5H285.42M300 1497.5H285.42M300 1369.5H285.42M300 1240.5H285.42" stroke="#000000" stroke-width="3.33" fill="none"/>
<g clip-path="url(#clip3)"><path d="M338.4 1664.5 L339.9 1665.09 L341.27 1665.9 L342.55 1666.85 L343.77 1667.89 L344.97 1668.96 L346.16 1670.05 L347.33 1671.14 L348.49 1672.25 L349.65 1673.37 L350.79 1674.49 L351.93 1675.63 L353.06 1676.77 L354.18 1677.92 L355.3 1679.08 L356.42 1680.23 L357.54 1681.4 L358.65 1682.56 L359.76 1683.72 L360.88 1684.89 L362 1686.05 L363.12 1687.21 L364.25 1688.37 L365.38 1689.52 L366.52 1690.67 L367.66 1691.81 L368.82 1692.94 L369.98 1694.07 L371.14 1695.19 L372.32 1696.31 L373.5 1697.41 L374.69 1698.52 L375.88 1699.61 L377.09 1700.7 L378.3 1701.78 L379.51 1702.85 L380.73 1703.92 L381.96 1704.98 L383.2 1706.03 L384.44 1707.07 L385.69 1708.11 L386.95 1709.14 L388.21 1710.15 L389.48 1711.17 L390.75 1712.17 L392.03 1713.16 L393.32 1714.15 L394.61 1715.13 L395.91 1716.1 L397.21 1717.06 L398.52 1718.01 L399.84 1718.95 L401.16 1719.89 L402.49 1720.81 L403.82 1721.72 L405.16 1722.63 L406.5 1723.53 L407.85 1724.41 L409.21 1725.29 L410.57 1726.15 L411.94 1727.01 L413.31 1727.86 L414.68 1728.69 L416.07 1729.52 L417.45 1730.33 L418.84 1731.14 L420.24 1731.93 L421.64 1732.71 L423.05 1733.48 L424.46 1734.24 L425.88 1734.99 L427.3 1735.73 L428.72 1736.46 L430.16 1737.17 L431.59 1737.88 L433.03 1738.57 L434.47 1739.25 L435.92 1739.92 L437.37 1740.57 L438.83 1741.22 L440.29 1741.85 L441.76 1742.48 L443.23 1743.09 L444.7 1743.69 L446.18 1744.28 L447.66 1744.85 L449.14 1745.42 L450.63 1745.98 L452.12 1746.53 L453.62 1747.06 L455.12 1747.59 L456.63 1748.1 L458.13 1748.61 L459.64 1749.1 L461.16 1749.59 L462.68 1750.06 L464.2 1750.53 L465.72 1750.98 L467.25 1751.43 L468.78 1751.86 L470.31 1752.29 L471.85 1752.71 L473.39 1753.11 L474.93 1753.51 L476.48 1753.9 L478.03 1754.28 L479.58 1754.65 L481.13 1755.01 L482.69 1755.37 L484.25 1755.71 L485.81 1756.05 L487.38 1756.38 L488.95 1756.7 L490.52 1757.01 L492.09 1757.31 L493.66 1757.61 L495.24 1757.89 L496.82 1758.17 L498.4 1758.44 L499.98 1758.71 L501.57 1758.96 L503.15 1759.21 L504.74 1759.45 L506.34 1759.69 L507.93 1759.91 L509.52 1760.13 L511.12 1760.35 L512.72 1760.55 L514.32 1760.75 L515.92 1760.94 L517.52 1761.13 L519.13 1761.31 L520.73 1761.48 L522.34 1761.64 L523.95 1761.8 L525.56 1761.96 L527.17 1762.1 L528.78 1762.24 L530.39 1762.38 L532.01 1762.51 L533.62 1762.63 L535.24 1762.75 L536.85 1762.86 L538.47 1762.97 L540.09 1763.07 L541.71 1763.17 L543.33 1763.26 L544.95 1763.34 L546.57 1763.42 L548.19 1763.5 L549.81 1763.57 L551.43 1763.64 L553.06 1763.7 L554.68 1763.76 L556.3 1763.81 L557.93 1763.86 L559.55 1763.9 L561.17 1763.94 L562.79 1763.98 L564.42 1764.01 L566.04 1764.04 L567.66 1764.06 L569.29 1764.09 L570.91 1764.1 L572.53 1764.12 L574.15 1764.13 L575.77 1764.13 L577.39 1764.14 L579.02 1764.14 L580.63 1764.15 L582.25 1764.15 L583.87 1764.15 L585.49 1764.15 L587.11 1764.14 L588.73 1764.13 L590.35 1764.12 L591.96 1764.1 L593.58 1764.08 L595.19 1764.06 L596.81 1764.04 L598.43 1764.01 L600.04 1763.98 L601.65 1763.94 L603.27 1763.91 L604.88 1763.87 L606.5 1763.82 L608.11 1763.78 L609.72 1763.73 L611.33 1763.68 L612.94 1763.63 L614.56 1763.57 L616.17 1763.51 L617.78 1763.45 L619.39 1763.38 L621 1763.32 L622.61 1763.25 L624.22 1763.17 L625.82 1763.1 L627.43 1763.02 L629.04 1762.94 L630.65 1762.86 L632.26 1762.77 L633.86 1762.68 L635.47 1762.59 L637.08 1762.5 L638.68 1762.41 L640.29 1762.31 L641.89 1762.21 L643.5 1762.11 L645.1 1762 L646.71 1761.9 L648.31 1761.79 L649.92 1761.68 L651.52 1761.56 L653.12 1761.45 L654.73 1761.33 L656.33 1761.21 L657.93 1761.09 L659.53 1760.96 L661.14 1760.83 L662.74 1760.71 L664.34 1760.57 L665.94 1760.44 L667.54 1760.31 L669.14 1760.17 L670.74 1760.03 L672.34 1759.89 L673.94 1759.75 L675.54 1759.6 L677.14 1759.46 L678.74 1759.31 L680.34 1759.16 L681.94 1759.01 L683.53 1758.85 L685.13 1758.7 L686.73 1758.54 L688.33 1758.38 L689.93 1758.22 L691.52 1758.06 L693.12 1757.89 L694.72 1757.73 L696.31 1757.56 L697.91 1757.39 L699.51 1757.22 L701.1 1757.05 L702.7 1756.87 L704.29 1756.7 L705.89 1756.52 L707.49 1756.34 L709.08 1756.16 L710.68 1755.98 L712.27 1755.8 L713.86 1755.62 L715.46 1755.43 L717.05 1755.25 L718.65 1755.06 L720.24 1754.87 L721.84 1754.68 L723.43 1754.49 L725.02 1754.29 L726.62 1754.1 L728.21 1753.9 L729.8 1753.71 L731.4 1753.51 L732.99 1753.31 L734.58 1753.12 L736.18 1752.94 L737.77 1752.76 L739.36 1752.58 L740.95 1752.39 L742.54 1752.21 L744.14 1752.02 L745.73 1751.84 L747.32 1751.65 L748.91 1751.46 L750.5 1751.27 L752.1 1751.08 L753.69 1750.89 L755.28 1750.7 L756.87 1750.51 L758.46 1750.32 L760.05 1750.12 L761.65 1749.93 L763.24 1749.73 L764.83 1749.54 L766.42 1749.34 L768.01 1749.14 L769.6 1748.95 L771.19 1748.75 L772.78 1748.55 L774.37 1748.35 L775.97 1748.15 L777.56 1747.95 L779.15 1747.75 L780.74 1747.55 L782.33 1747.35 L783.92 1747.14 L785.51 1746.94 L787.1 1746.74 L788.69 1746.54 L790.28 1746.33 L791.87 1746.13 L793.46 1745.92 L795.05 1745.72 L796.65 1745.52 L798.24 1745.31 L799.83 1745.11 L801.42 1744.87 L803.01 1744.64 L804.6 1744.41 L806.19 1744.17 L807.78 1743.94 L809.37 1743.7 L810.96 1743.47 L812.56 1743.23 L814.15 1743 L815.74 1742.76 L817.33 1742.53 L818.92 1742.29 L820.51 1742.06 L822.1 1741.82 L823.69 1741.59 L825.29 1741.36 L826.88 1741.12 L828.47 1740.89 L830.06 1740.66 L831.65 1740.42 L833.25 1740.19 L834.84 1739.96 L836.43 1739.72 L838.02 1739.49 L839.61 1739.26 L841.21 1739.03 L842.8 1738.8 L844.39 1738.57 L845.99 1738.34 L847.58 1738.11 L849.17 1737.88 L850.76 1737.65 L852.36 1737.42 L853.95 1737.19 L855.55 1736.97 L857.14 1736.74 L858.73 1736.52 L860.33 1736.29 L861.92 1736.07 L863.52 1735.84 L865.11 1735.62 L866.7 1735.4 L868.3 1735.18 L869.89 1734.96 L871.49 1734.74 L873.09 1734.52 L874.68 1734.3 L876.28 1734.08 L877.87 1733.86 L879.47 1733.63 L881.07 1733.4 L882.66 1733.17 L884.26 1732.93 L885.86 1732.7 L887.45 1732.48 L889.05 1732.25 L890.65 1732.02 L892.25 1731.79 L893.84 1731.57 L895.44 1731.35 L897.04 1731.12 L898.64 1730.9 L900.24 1730.68 L901.84 1730.46 L903.44 1730.24 L905.03 1730.02 L906.63 1729.81 L908.23 1729.59 L909.83 1729.38 L911.43 1729.16 L913.03 1728.95 L914.64 1728.74 L916.24 1728.53 L917.84 1728.31 L919.44 1728.1 L921.04 1727.89 L922.64 1727.68 L924.24 1727.48 L925.84 1727.27 L927.44 1727.06 L929.04 1726.85 L930.65 1726.64 L932.25 1726.44 L933.85 1726.23 L935.45 1726.02 L937.05 1725.81 L938.65 1725.61 L940.26 1725.4 L941.86 1725.2 L943.46 1724.99 L945.06 1724.78 L946.66 1724.58 L948.26 1724.37 L949.87 1724.16 L951.47 1723.96 L953.07 1723.75 L954.67 1723.54 L956.27 1723.34 L957.87 1723.18 L959.47 1723.01 L961.08 1722.84 L962.68 1722.68 L964.28 1722.51 L965.88 1722.34 L967.48 1722.18 L969.08 1722.01 L970.68 1721.84 L972.28 1721.67 L973.88 1721.5 L975.48 1721.33 L977.08 1721.15 L978.68 1720.98 L980.28 1720.81 L981.88 1720.63 L983.48 1720.46 L985.08 1720.28 L986.68 1720.1 L988.28 1719.92 L989.87 1719.74 L991.47 1719.56 L993.07 1719.38 L994.67 1719.19 L996.27 1719.01 L997.86 1718.82 L999.46 1718.63 L1001.06 1718.44 L1002.65 1718.25 L1004.25 1718.06 L1005.84 1717.87 L1007.44 1717.67 L1009.04 1717.47 L1010.63 1717.27 L1012.22 1717.07 L1013.82 1716.87 L1015.41 1716.67 L1017.01 1716.46 L1018.6 1716.25 L1020.19 1716.04 L1021.78 1715.83 L1023.38 1715.62 L1024.97 1715.4 L1026.56 1715.19 L1028.15 1714.97 L1029.74 1714.74 L1031.33 1714.52 L1032.92 1714.29 L1034.51 1714.06 L1036.1 1713.8 L1037.69 1713.54 L1039.27 1713.28 L1040.86 1713.02 L1042.45 1712.76 L1044.03 1712.49 L1045.62 1712.22 L1047.2 1711.95 L1048.79 1711.67 L1050.37 1711.4 L1051.96 1711.11 L1053.54 1710.83 L1055.12 1710.55 L1056.71 1710.26 L1058.29 1709.97 L1059.87 1709.67 L1061.45 1709.37 L1063.03 1709.07 L1064.61 1708.77 L1066.19 1708.46 L1067.76 1708.15 L1069.34 1707.84 L1070.92 1707.53 L1072.5 1707.21 L1074.07 1706.89 L1075.65 1706.56 L1077.22 1706.23 L1078.79 1705.9 L1080.37 1705.56 L1081.94 1705.16 L1083.51 1704.71 L1085.08 1704.25 L1086.65 1703.79 L1088.22 1703.33 L1089.79 1702.87 L1091.36 1702.4 L1092.93 1701.93 L1094.49 1701.45 L1096.06 1700.97 L1097.62 1700.49 L1099.19 1700 L1100.75 1699.51 L1102.32 1699.01 L1103.88 1698.51 L1105.44 1698.01 L1107 1697.5" fill="none" stroke="#0000ff" stroke-width="6.25" stroke-linecap="square" stroke-linejoin="round"/>
<path d="M338.4 1776.2 L339.99 1776.25 L341.55 1776.43 L343.07 1776.72 L344.57 1777.11 L346.04 1777.58 L347.49 1778.14 L348.92 1778.76 L350.33 1779.44 L351.72 1780.17 L353.1 1780.93 L354.47 1781.72 L355.83 1782.52 L357.18 1783.34 L358.53 1784.16 L359.87 1785 L361.21 1785.84 L362.55 1786.68 L363.88 1787.54 L365.2 1788.39 L366.53 1789.24 L367.85 1790.1 L369.18 1790.95 L370.5 1791.81 L371.82 1792.66 L373.14 1793.51 L374.46 1794.36 L375.79 1795.2 L377.11 1796.04 L378.44 1796.88 L379.76 1797.72 L381.09 1798.54 L382.42 1799.36 L383.75 1800.18 L385.09 1800.99 L386.43 1801.79 L387.77 1802.58 L389.12 1803.37 L390.47 1804.14 L391.83 1804.91 L393.19 1805.67 L394.56 1806.41 L395.93 1807.15 L397.31 1807.87 L398.7 1808.58 L400.09 1809.28 L401.49 1809.96 L402.9 1810.63 L404.31 1811.28 L405.74 1811.92 L407.17 1812.55 L408.61 1813.15 L410.06 1813.74 L411.52 1814.32 L412.99 1814.88 L414.47 1815.42 L415.96 1815.95 L417.45 1816.46 L418.95 1816.96 L420.45 1817.45 L421.96 1817.92 L423.47 1818.39 L424.99 1818.84 L426.51 1819.28 L428.04 1819.72 L429.56 1820.14 L431.09 1820.56 L432.62 1820.97 L434.15 1821.38 L435.69 1821.77 L437.22 1822.16 L438.75 1822.55 L440.29 1822.92 L441.82 1823.29 L443.36 1823.65 L444.9 1824.01 L446.43 1824.36 L447.97 1824.7 L449.51 1825.04 L451.05 1825.37 L452.6 1825.69 L454.14 1826.01 L455.68 1826.32 L457.22 1826.63 L458.77 1826.93 L460.31 1827.21 L461.86 1827.46 L463.41 1827.71 L464.96 1827.94 L466.5 1828.17 L468.05 1828.4 L469.6 1828.62 L471.15 1828.83 L472.7 1829.04 L474.26 1829.24 L475.81 1829.44 L477.36 1829.63 L478.92 1829.81 L480.47 1830 L482.03 1830.17 L483.58 1830.34 L485.14 1830.51 L486.69 1830.66 L488.25 1830.82 L489.81 1830.97 L491.37 1831.11 L492.93 1831.25 L494.49 1831.39 L496.05 1831.52 L497.61 1831.64 L499.17 1831.76 L500.73 1831.9 L502.29 1832.06 L503.85 1832.21 L505.41 1832.36 L506.98 1832.5 L508.54 1832.64 L510.1 1832.78 L511.67 1832.91 L513.23 1833.03 L514.8 1833.16 L516.36 1833.27 L517.93 1833.39 L519.49 1833.5 L521.06 1833.61 L522.63 1833.71 L524.19 1833.81 L525.76 1833.9 L527.33 1833.99 L528.9 1834.08 L530.46 1834.16 L532.03 1834.24 L533.6 1834.32 L535.17 1834.39 L536.74 1834.46 L538.31 1834.53 L539.87 1834.59 L541.44 1834.65 L543.01 1834.7 L544.58 1834.76 L546.15 1834.81 L547.72 1834.85 L549.29 1834.89 L550.86 1834.94 L552.43 1834.97 L554 1835.01 L555.57 1835.04 L557.14 1835.07 L558.71 1835.09 L560.28 1835.12 L561.85 1835.14 L563.42 1835.16 L564.99 1835.17 L566.56 1835.19 L568.13 1835.2 L569.7 1835.2 L571.27 1835.21 L572.84 1835.22 L574.41 1835.22 L575.98 1835.22 L577.55 1835.21 L579.12 1835.21 L580.69 1835.19 L582.26 1835.18 L583.83 1835.16 L585.39 1835.14 L586.96 1835.12 L588.53 1835.1 L590.1 1835.07 L591.67 1835.05 L593.24 1835.02 L594.81 1834.99 L596.37 1834.95 L597.94 1834.92 L599.51 1834.88 L601.08 1834.84 L602.65 1834.8 L604.21 1834.76 L605.78 1834.71 L607.35 1834.67 L608.92 1834.62 L610.48 1834.57 L612.05 1834.52 L613.62 1834.46 L615.19 1834.41 L616.75 1834.35 L618.32 1834.29 L619.89 1834.23 L621.45 1834.17 L623.02 1834.11 L624.59 1834.04 L626.15 1833.97 L627.72 1833.9 L629.29 1833.83 L630.85 1833.76 L632.42 1833.69 L633.99 1833.61 L635.55 1833.53 L637.12 1833.46 L638.68 1833.38 L640.25 1833.29 L641.81 1833.21 L643.38 1833.13 L644.95 1833.04 L646.51 1832.95 L648.08 1832.86 L649.64 1832.77 L651.21 1832.68 L652.77 1832.58 L654.34 1832.49 L655.9 1832.39 L657.47 1832.32 L659.03 1832.24 L660.6 1832.17 L662.16 1832.09 L663.73 1832.01 L665.29 1831.93 L666.86 1831.85 L668.42 1831.76 L669.99 1831.68 L671.55 1831.59 L673.12 1831.5 L674.68 1831.42 L676.24 1831.33 L677.81 1831.24 L679.37 1831.14 L680.94 1831.05 L682.5 1830.96 L684.06 1830.86 L685.63 1830.76 L687.19 1830.67 L688.76 1830.57 L690.32 1830.47 L691.88 1830.37 L693.45 1830.26 L695.01 1830.16 L696.57 1830.06 L698.14 1829.95 L699.7 1829.85 L701.27 1829.74 L702.83 1829.63 L704.39 1829.52 L705.96 1829.41 L707.52 1829.3 L709.08 1829.19 L710.65 1829.08 L712.21 1828.96 L713.77 1828.85 L715.33 1828.73 L716.9 1828.62 L718.46 1828.5 L720.02 1828.38 L721.59 1828.26 L723.15 1828.14 L724.71 1828.02 L726.27 1827.9 L727.84 1827.78 L729.4 1827.66 L730.96 1827.53 L732.53 1827.41 L734.09 1827.28 L735.65 1827.15 L737.21 1827.02 L738.78 1826.89 L740.34 1826.75 L741.9 1826.62 L743.46 1826.48 L745.03 1826.34 L746.59 1826.21 L748.15 1826.07 L749.71 1825.93 L751.28 1825.79 L752.84 1825.65 L754.4 1825.52 L755.96 1825.38 L757.52 1825.24 L759.09 1825.09 L760.65 1824.95 L762.21 1824.81 L763.77 1824.67 L765.34 1824.53 L766.9 1824.38 L768.46 1824.24 L770.02 1824.1 L771.58 1823.95 L773.15 1823.81 L774.71 1823.66 L776.27 1823.52 L777.83 1823.37 L779.39 1823.23 L780.96 1823.08 L782.52 1822.94 L784.08 1822.79 L785.64 1822.64 L787.2 1822.5 L788.77 1822.35 L790.33 1822.2 L791.89 1822.06 L793.45 1821.91 L795.01 1821.76 L796.58 1821.61 L798.14 1821.47 L799.7 1821.32 L801.26 1821.15 L802.82 1820.97 L804.39 1820.79 L805.95 1820.62 L807.51 1820.44 L809.07 1820.26 L810.63 1820.09 L812.2 1819.91 L813.76 1819.73 L815.32 1819.56 L816.88 1819.38 L818.44 1819.2 L820.01 1819.03 L821.57 1818.85 L823.13 1818.67 L824.69 1818.5 L826.25 1818.32 L827.82 1818.15 L829.38 1817.97 L830.94 1817.79 L832.5 1817.62 L834.06 1817.44 L835.63 1817.27 L837.19 1817.09 L838.75 1816.92 L840.31 1816.75 L841.88 1816.57 L843.44 1816.4 L845 1816.23 L846.56 1816.05 L848.12 1815.88 L849.69 1815.71 L851.25 1815.54 L852.81 1815.37 L854.37 1815.2 L855.94 1815.03 L857.5 1814.86 L859.06 1814.69 L860.62 1814.52 L862.19 1814.35 L863.75 1814.18 L865.31 1814.02 L866.87 1813.85 L868.44 1813.68 L870 1813.52 L871.56 1813.35 L873.13 1813.19 L874.69 1813.02 L876.25 1812.86 L877.81 1812.7 L879.38 1812.55 L880.94 1812.4 L882.5 1812.25 L884.07 1812.1 L885.63 1811.95 L887.19 1811.81 L888.76 1811.66 L890.32 1811.52 L891.88 1811.37 L893.44 1811.23 L895.01 1811.09 L896.57 1810.94 L898.13 1810.8 L899.7 1810.66 L901.26 1810.52 L902.83 1810.38 L904.39 1810.25 L905.95 1810.11 L907.52 1809.97 L909.08 1809.84 L910.64 1809.7 L912.21 1809.56 L913.77 1809.43 L915.33 1809.3 L916.9 1809.16 L918.46 1809.03 L920.03 1808.9 L921.59 1808.76 L923.15 1808.63 L924.72 1808.5 L926.28 1808.37 L927.85 1808.24 L929.41 1808.11 L930.97 1807.98 L932.54 1807.85 L934.1 1807.72 L935.66 1807.59 L937.23 1807.46 L938.79 1807.33 L940.35 1807.2 L941.92 1807.07 L943.48 1806.94 L945.05 1806.81 L946.61 1806.68 L948.17 1806.55 L949.74 1806.42 L951.3 1806.29 L952.86 1806.16 L954.43 1806.03 L955.99 1805.9 L957.55 1805.78 L959.12 1805.66 L960.68 1805.54 L962.24 1805.42 L963.81 1805.3 L965.37 1805.18 L966.93 1805.06 L968.49 1804.94 L970.06 1804.81 L971.62 1804.69 L973.18 1804.57 L974.74 1804.44 L976.31 1804.32 L977.87 1804.2 L979.43 1804.07 L980.99 1803.95 L982.56 1803.82 L984.12 1803.69 L985.68 1803.56 L987.24 1803.43 L988.8 1803.31 L990.36 1803.17 L991.93 1803.04 L993.49 1802.91 L995.05 1802.78 L996.61 1802.64 L998.17 1802.51 L999.73 1802.37 L1001.29 1802.24 L1002.85 1802.1 L1004.41 1801.96 L1005.97 1801.82 L1007.53 1801.68 L1009.09 1801.54 L1010.65 1801.39 L1012.21 1801.25 L1013.77 1801.1 L1015.33 1800.96 L1016.89 1800.81 L1018.45 1800.66 L1020.01 1800.51 L1021.57 1800.35 L1023.13 1800.2 L1024.69 1800.04 L1026.25 1799.89 L1027.8 1799.73 L1029.36 1799.57 L1030.92 1799.41 L1032.48 1799.25 L1034.04 1799.08 L1035.59 1798.91 L1037.15 1798.75 L1038.71 1798.58 L1040.27 1798.4 L1041.82 1798.23 L1043.38 1798.06 L1044.93 1797.88 L1046.49 1797.7 L1048.05 1797.52 L1049.6 1797.34 L1051.16 1797.15 L1052.71 1796.97 L1054.27 1796.78 L1055.82 1796.59 L1057.38 1796.39 L1058.93 1796.2 L1060.49 1796 L1062.04 1795.81 L1063.59 1795.61 L1065.15 1795.4 L1066.7 1795.2 L1068.25 1794.99 L1069.81 1794.78 L1071.36 1794.57 L1072.91 1794.36 L1074.46 1794.14 L1076.02 1793.92 L1077.57 1793.7 L1079.12 1793.48 L1080.67 1793.25 L1082.22 1792.93 L1083.77 1792.58 L1085.32 1792.22 L1086.87 1791.87 L1088.42 1791.51 L1089.97 1791.15 L1091.52 1790.79 L1093.07 1790.42 L1094.62 1790.05 L1096.17 1789.68 L1097.72 1789.3 L1099.26 1788.93 L1100.81 1788.55 L1102.36 1788.16 L1103.91 1787.78 L1105.45 1787.39 L1107 1787" fill="none" stroke="#008000" stroke-width="6.25" stroke-linecap="square" stroke-linejoin="round"/>
<path d="M338.4 1340.5 L339.93 1340.14 L341.47 1339.81 L343.01 1339.51 L344.55 1339.23 L346.09 1338.97 L347.64 1338.74 L349.2 1338.53 L350.75 1338.33 L352.31 1338.14 L353.87 1337.97 L355.43 1337.81 L357 1337.68 L358.57 1337.55 L360.14 1337.45 L361.71 1337.35 L363.28 1337.27 L364.86 1337.2 L366.44 1337.14 L368.01 1337.1 L369.59 1337.06 L371.18 1337.02 L372.76 1337 L374.34 1336.98 L375.92 1336.96 L377.51 1336.95 L379.09 1336.94 L380.68 1336.94 L382.27 1336.93 L383.85 1336.92 L385.44 1336.91 L387.02 1336.9 L388.61 1336.87 L390.19 1336.81 L391.77 1336.74 L393.36 1336.67 L394.94 1336.59 L396.52 1336.51 L398.11 1336.43 L399.69 1336.34 L401.27 1336.25 L402.85 1336.16 L404.43 1336.06 L406.01 1335.96 L407.59 1335.85 L409.17 1335.74 L410.75 1335.63 L412.33 1335.51 L413.91 1335.39 L415.48 1335.27 L417.06 1335.14 L418.64 1335.01 L420.22 1334.88 L421.79 1334.74 L423.37 1334.6 L424.94 1334.46 L426.52 1334.31 L428.09 1334.16 L429.67 1334.01 L431.24 1333.86 L432.81 1333.7 L434.39 1333.53 L435.96 1333.37 L437.53 1333.2 L439.11 1333.03 L440.68 1332.86 L442.25 1332.68 L443.82 1332.5 L445.39 1332.32 L446.96 1332.13 L448.53 1331.94 L450.1 1331.75 L451.67 1331.56 L453.24 1331.36 L454.81 1331.16 L456.37 1330.96 L457.94 1330.76 L459.51 1330.55 L461.08 1330.34 L462.64 1330.13 L464.21 1329.91 L465.77 1329.7 L467.34 1329.48 L468.91 1329.26 L470.47 1329.03 L472.04 1328.81 L473.6 1328.58 L475.16 1328.35 L476.73 1328.11 L478.29 1327.88 L479.85 1327.64 L481.42 1327.4 L482.98 1327.16 L484.54 1326.92 L486.1 1326.67 L487.66 1326.44 L489.23 1326.2 L490.79 1325.96 L492.35 1325.72 L493.91 1325.48 L495.47 1325.23 L497.03 1324.99 L498.59 1324.74 L500.15 1324.49 L501.7 1324.24 L503.26 1323.98 L504.82 1323.73 L506.38 1323.47 L507.94 1323.21 L509.49 1322.95 L511.05 1322.68 L512.61 1322.42 L514.16 1322.15 L515.72 1321.88 L517.28 1321.61 L518.83 1321.34 L520.39 1321.07 L521.94 1320.79 L523.5 1320.51 L525.05 1320.23 L526.61 1319.95 L528.16 1319.67 L529.71 1319.38 L531.27 1319.1 L532.82 1318.81 L534.37 1318.52 L535.93 1318.23 L537.48 1317.93 L539.03 1317.64 L540.58 1317.34 L542.13 1317.05 L543.69 1316.75 L545.24 1316.45 L546.79 1316.15 L548.34 1315.84 L549.89 1315.54 L551.44 1315.23 L552.99 1314.92 L554.54 1314.61 L556.09 1314.3 L557.64 1313.99 L559.19 1313.68 L560.73 1313.36 L562.28 1313.05 L563.83 1312.73 L565.38 1312.42 L566.93 1312.1 L568.47 1311.78 L570.02 1311.47 L571.57 1311.15 L573.12 1310.83 L574.66 1310.5 L576.21 1310.18 L577.76 1309.86 L579.3 1309.53 L580.85 1309.21 L582.39 1308.88 L583.94 1308.55 L585.48 1308.22 L587.03 1307.89 L588.57 1307.56 L590.12 1307.22 L591.66 1306.89 L593.21 1306.56 L594.75 1306.22 L596.29 1305.88 L597.84 1305.55 L599.38 1305.21 L600.92 1304.87 L602.47 1304.53 L604.01 1304.18 L605.55 1303.84 L607.1 1303.5 L608.64 1303.15 L610.18 1302.81 L611.72 1302.46 L613.26 1302.12 L614.81 1301.77 L616.35 1301.42 L617.89 1301.07 L619.43 1300.72 L620.97 1300.37 L622.51 1300.02 L624.05 1299.67 L625.59 1299.32 L627.13 1298.96 L628.67 1298.61 L630.21 1298.26 L631.75 1297.9 L633.29 1297.55 L634.83 1297.19 L636.37 1296.83 L637.91 1296.47 L639.45 1296.12 L640.99 1295.74 L642.52 1295.36 L644.06 1294.97 L645.6 1294.58 L647.14 1294.2 L648.68 1293.81 L650.22 1293.42 L651.75 1293.03 L653.29 1292.64 L654.83 1292.25 L656.37 1291.86 L657.9 1291.48 L659.44 1291.08 L660.98 1290.69 L662.51 1290.3 L664.05 1289.91 L665.59 1289.52 L667.12 1289.13 L668.66 1288.74 L670.2 1288.34 L671.73 1287.95 L673.27 1287.56 L674.8 1287.16 L676.34 1286.77 L677.88 1286.37 L679.41 1285.98 L680.95 1285.58 L682.48 1285.19 L684.02 1284.79 L685.55 1284.39 L687.09 1284 L688.62 1283.6 L690.15 1283.2 L691.69 1282.8 L693.22 1282.41 L694.76 1282.01 L696.29 1281.61 L697.83 1281.21 L699.36 1280.81 L700.89 1280.41 L702.43 1280.01 L703.96 1279.61 L705.49 1279.21 L707.03 1278.81 L708.56 1278.41 L710.09 1278 L711.63 1277.6 L713.16 1277.2 L714.69 1276.8 L716.22 1276.39 L717.76 1275.99 L719.29 1275.59 L720.82 1275.18 L722.35 1274.78 L723.89 1274.37 L725.42 1273.97 L726.95 1273.56 L728.48 1273.16 L730.01 1272.75 L731.54 1272.34 L733.08 1271.94 L734.61 1271.53 L736.14 1271.12 L737.67 1270.72 L739.2 1270.31 L740.73 1269.9 L742.26 1269.49 L743.79 1269.08 L745.32 1268.67 L746.85 1268.27 L748.38 1267.86 L749.92 1267.45 L751.45 1267.04 L752.98 1266.63 L754.51 1266.22 L756.04 1265.8 L757.57 1265.39 L759.1 1264.98 L760.63 1264.57 L762.16 1264.16 L763.68 1263.75 L765.21 1263.33 L766.74 1262.92 L768.27 1262.5 L769.8 1262.09 L771.33 1261.67 L772.86 1261.25 L774.39 1260.83 L775.92 1260.41 L777.45 1259.99 L778.98 1259.57 L780.5 1259.15 L782.03 1258.73 L783.56 1258.31 L785.09 1257.89 L786.62 1257.47 L788.15 1257.04 L789.68 1256.62 L791.2 1256.2 L792.73 1255.78 L794.26 1255.36 L795.79 1254.93 L797.32 1254.51 L798.84 1254.09 L800.37 1253.66 L801.9 1253.24 L803.43 1252.82 L804.95 1252.39 L806.48 1251.97 L808.01 1251.55 L809.54 1251.12 L811.06 1250.7 L812.59 1250.27 L814.12 1249.85 L815.64 1249.42 L817.17 1249 L818.7 1248.57 L820.22 1248.14 L821.75 1247.72 L823.28 1247.29 L824.81 1246.87 L826.33 1246.44 L827.86 1246.01 L829.39 1245.58 L830.91 1245.16 L832.44 1244.73 L833.96 1244.3 L835.49 1243.87 L837.02 1243.45 L838.54 1243.02 L840.07 1242.59 L841.6 1242.16 L843.12 1241.73 L844.65 1241.3 L846.17 1240.88 L847.7 1240.45 L849.23 1240.02 L850.75 1239.59 L852.28 1239.16 L853.8 1238.73 L855.33 1238.3 L856.85 1237.87 L858.38 1237.44 L859.9 1237.01 L861.43 1236.58 L862.96 1236.15 L864.48 1235.72 L866.01 1235.29 L867.53 1234.85 L869.06 1234.42 L870.58 1233.99 L872.11 1233.56 L873.63 1233.13 L875.16 1232.7 L876.68 1232.27 L878.21 1231.83 L879.73 1231.4 L881.26 1230.97 L882.78 1230.54 L884.31 1230.1 L885.83 1229.67 L887.36 1229.24 L888.88 1228.81 L890.41 1228.37 L891.93 1227.94 L893.46 1227.51 L894.98 1227.07 L896.51 1226.64 L898.03 1226.21 L899.56 1225.77 L901.08 1225.34 L902.61 1224.91 L904.13 1224.48 L905.66 1224.05 L907.18 1223.62 L908.7 1223.19 L910.23 1222.76 L911.75 1222.33 L913.28 1221.89 L914.8 1221.46 L916.33 1221.03 L917.85 1220.6 L919.38 1220.17 L920.9 1219.74 L922.43 1219.3 L923.95 1218.87 L925.47 1218.44 L927 1218.01 L928.52 1217.58 L930.05 1217.14 L931.57 1216.71 L933.1 1216.28 L934.62 1215.85 L936.14 1215.42 L937.67 1214.98 L939.19 1214.55 L940.72 1214.12 L942.24 1213.69 L943.77 1213.25 L945.29 1212.82 L946.82 1212.39 L948.34 1211.95 L949.86 1211.52 L951.39 1211.09 L952.91 1210.66 L954.44 1210.22 L955.96 1209.79 L957.49 1209.36 L959.01 1208.92 L960.53 1208.49 L962.06 1208.06 L963.58 1207.62 L965.11 1207.19 L966.63 1206.76 L968.16 1206.33 L969.68 1205.89 L971.2 1205.46 L972.73 1205.03 L974.25 1204.59 L975.78 1204.16 L977.3 1203.73 L978.83 1203.29 L980.35 1202.86 L981.88 1202.43 L983.4 1201.99 L984.92 1201.56 L986.45 1201.13 L987.97 1200.69 L989.5 1200.26 L991.02 1199.83 L992.55 1199.39 L994.07 1198.96 L995.6 1198.53 L997.12 1198.09 L998.65 1197.66 L1000.17 1197.23 L1001.7 1196.8 L1003.22 1196.37 L1004.75 1195.93 L1006.27 1195.5 L1007.79 1195.07 L1009.32 1194.64 L1010.84 1194.21 L1012.37 1193.78 L1013.89 1193.35 L1015.42 1192.92 L1016.94 1192.49 L1018.47 1192.06 L1019.99 1191.63 L1021.52 1191.19 L1023.04 1190.76 L1024.57 1190.33 L1026.1 1189.9 L1027.62 1189.47 L1029.15 1189.04 L1030.67 1188.61 L1032.2 1188.18 L1033.72 1187.75 L1035.25 1187.32 L1036.77 1186.89 L1038.3 1186.46 L1039.82 1186.03 L1041.35 1185.6 L1042.88 1185.17 L1044.4 1184.74 L1045.93 1184.31 L1047.45 1183.88 L1048.98 1183.45 L1050.5 1183.02 L1052.03 1182.59 L1053.56 1182.16 L1055.08 1181.73 L1056.61 1181.31 L1058.13 1180.88 L1059.66 1180.45 L1061.19 1180.02 L1062.71 1179.59 L1064.24 1179.16 L1065.77 1178.73 L1067.29 1178.3 L1068.82 1177.87 L1070.34 1177.45 L1071.87 1177.02 L1073.4 1176.59 L1074.92 1176.16 L1076.45 1175.73 L1077.98 1175.31 L1079.51 1174.88 L1081.03 1174.45 L1082.56 1174.02 L1084.09 1173.6 L1085.61 1173.17 L1087.14 1172.74 L1088.67 1172.31 L1090.2 1171.89 L1091.72 1171.46 L1093.25 1171.03 L1094.78 1170.61 L1096.3 1170.18 L1097.83 1169.75 L1099.36 1169.33 L1100.89 1168.9 L1102.42 1168.48 L1103.94 1168.05 L1105.47 1167.63 L1107 1167.2" fill="none" stroke="#ff0000" stroke-width="6.25" stroke-linecap="square" stroke-linejoin="round"/></g>
<rect x="300.5" y="1134.5" width="845" height="735" fill="none" stroke="#000000" stroke-width="3.33" stroke-linejoin="miter"/>
<rect x="684.5" y="1401" width="440.12" height="201" rx="8.33" ry="8.33" fill="#ffffff" fill-opacity="0.8" stroke="#cccccc" stroke-opacity="0.8" stroke-width="4.17"/>
<path d="M701.16 1436.08 L784.5 1436.08" fill="none" stroke="#0000ff" stroke-width="6.25" stroke-linecap="square" stroke-linejoin="round"/>
<path d="M701.16 1498.92 L784.5 1498.92" fill="none" stroke="#008000" stroke-width="6.25" stroke-linecap="square" stroke-linejoin="round"/>
<path d="M701.16 1561.75 L784.5 1561.75" fill="none" stroke="#ff0000" stroke-width="6.25" stroke-linecap="square" stroke-linejoin="round"/>
</g>
<g id="axes4">
<clipPath id="clip4"><rect x="1314.55" y="1134" width="845.45" height="735"/></clipPath>
<path d="M1353.5 1869V1883.58M1584.5 1869V1883.58M1814.5 1869V1883.58M2045.5 1869V1883.58M1314.55 1839.5H1299.96M1314.55 1685.5H1299.96M1314.55 1530.5H1299.96M1314.55 1376.5H1299.96M1314.55 1221.5H1299.96" stroke="#000000" stroke-width="3.33" fill="none"/>
<g clip-path="url(#clip4)"><path d="M1353 1167.4 L1353.43 1169.7 L1353.85 1172 L1354.28 1174.3 L1354.7 1176.6 L1355.12 1178.9 L1355.54 1181.2 L1355.96 1183.5 L1356.39 1185.8 L1356.81 1188.1 L1357.23 1190.4 L1357.65 1192.71 L1358.06 1195.01 L1358.48 1197.31 L1358.9 1199.61 L1359.32 1201.92 L1359.74 1204.22 L1360.16 1206.53 L1360.57 1208.83 L1360.99 1211.13 L1361.41 1213.44 L1361.83 1215.74 L1362.24 1218.05 L1362.66 1220.35 L1363.08 1222.66 L1363.5 1224.96 L1363.92 1227.26 L1364.34 1229.57 L1364.76 1231.87 L1365.18 1234.18 L1365.6 1236.48 L1366.02 1238.79 L1366.44 1241.09 L1366.86 1243.4 L1367.29 1245.7 L1367.71 1248.01 L1368.14 1250.31 L1368.56 1252.62 L1368.99 1254.92 L1369.42 1257.23 L1369.85 1259.53 L1370.28 1261.83 L1370.71 1264.14 L1371.14 1266.44 L1371.57 1268.75 L1372.01 1271.05 L1372.44 1273.35 L1372.88 1275.66 L1373.32 1277.96 L1373.76 1280.26 L1374.2 1282.56 L1374.64 1284.86 L1375.09 1287.17 L1375.53 1289.47 L1375.98 1291.77 L1376.43 1294.07 L1376.88 1296.37 L1377.34 1298.67 L1377.79 1300.97 L1378.25 1303.27 L1378.71 1305.56 L1379.17 1307.86 L1379.64 1310.16 L1380.1 1312.46 L1380.57 1314.75 L1381.04 1317.05 L1381.51 1319.34 L1381.99 1321.64 L1382.47 1323.93 L1382.95 1326.23 L1383.43 1328.52 L1383.91 1330.81 L1384.4 1333.11 L1384.89 1335.4 L1385.39 1337.69 L1385.88 1339.98 L1386.38 1342.27 L1386.88 1344.56 L1387.39 1346.85 L1387.89 1349.13 L1388.4 1351.42 L1388.92 1353.71 L1389.43 1355.99 L1389.95 1358.28 L1390.48 1360.56 L1391 1362.84 L1391.53 1365.12 L1392.07 1367.41 L1392.6 1369.69 L1393.14 1371.97 L1393.69 1374.24 L1394.23 1376.52 L1394.78 1378.8 L1395.34 1381.08 L1395.9 1383.35 L1396.46 1385.62 L1397.02 1387.9 L1397.59 1390.17 L1398.16 1392.44 L1398.74 1394.71 L1399.32 1396.98 L1399.91 1399.25 L1400.5 1401.52 L1401.09 1403.78 L1401.69 1406.05 L1402.29 1408.31 L1402.9 1410.57 L1403.51 1412.84 L1404.12 1415.1 L1404.74 1417.36 L1405.37 1419.61 L1406 1421.87 L1406.63 1424.13 L1407.27 1426.38 L1407.91 1428.64 L1408.56 1430.89 L1409.21 1433.14 L1409.87 1435.39 L1410.53 1437.64 L1411.2 1439.88 L1411.87 1442.13 L1412.55 1444.37 L1413.23 1446.62 L1413.92 1448.86 L1414.61 1451.1 L1415.31 1453.34 L1416.01 1455.58 L1416.72 1457.81 L1417.43 1460.05 L1418.15 1462.28 L1418.88 1464.51 L1419.61 1466.74 L1420.34 1468.97 L1421.09 1471.2 L1421.83 1473.43 L1422.59 1475.65 L1423.35 1477.87 L1424.11 1480.1 L1424.88 1482.32 L1425.66 1484.53 L1426.44 1486.75 L1427.23 1488.97 L1428.02 1491.18 L1428.83 1493.39 L1429.63 1495.6 L1430.45 1497.81 L1431.27 1500.02 L1432.09 1502.22 L1432.93 1504.42 L1433.77 1506.63 L1434.61 1508.83 L1435.46 1511.02 L1436.32 1513.22 L1437.19 1515.41 L1438.06 1517.61 L1438.94 1519.8 L1439.83 1521.98 L1440.72 1524.17 L1441.62 1526.35 L1442.53 1528.53 L1443.44 1530.71 L1444.36 1532.89 L1445.29 1535.06 L1446.23 1537.23 L1447.17 1539.39 L1448.12 1541.56 L1449.08 1543.72 L1450.05 1545.87 L1451.02 1548.02 L1452 1550.17 L1452.99 1552.32 L1453.99 1554.46 L1455 1556.59 L1456.01 1558.73 L1457.03 1560.85 L1458.06 1562.98 L1459.1 1565.1 L1460.15 1567.21 L1461.2 1569.32 L1462.27 1571.42 L1463.34 1573.52 L1464.42 1575.62 L1465.51 1577.71 L1466.61 1579.79 L1467.72 1581.87 L1468.84 1583.94 L1469.96 1586.01 L1471.1 1588.07 L1472.24 1590.12 L1473.39 1592.17 L1474.55 1594.21 L1475.73 1596.25 L1476.91 1598.28 L1478.1 1600.3 L1479.3 1602.32 L1480.51 1604.33 L1481.73 1606.33 L1482.96 1608.33 L1484.19 1610.31 L1485.44 1612.3 L1486.7 1614.27 L1487.97 1616.24 L1489.25 1618.19 L1490.54 1620.14 L1491.84 1622.09 L1493.15 1624.02 L1494.47 1625.95 L1495.8 1627.87 L1497.14 1629.78 L1498.49 1631.68 L1499.86 1633.57 L1501.23 1635.46 L1502.62 1637.33 L1504.01 1639.2 L1505.42 1641.06 L1506.83 1642.91 L1508.26 1644.75 L1509.7 1646.58 L1511.15 1648.4 L1512.62 1650.21 L1514.09 1652.01 L1515.57 1653.8 L1517.07 1655.58 L1518.58 1657.35 L1520.1 1659.11 L1521.63 1660.86 L1523.17 1662.6 L1524.73 1664.33 L1526.29 1666.05 L1527.87 1667.76 L1529.46 1669.46 L1531.06 1671.15 L1532.67 1672.83 L1534.3 1674.49 L1535.93 1676.15 L1537.57 1677.79 L1539.23 1679.43 L1540.9 1681.05 L1542.57 1682.67 L1544.26 1684.27 L1545.96 1685.86 L1547.66 1687.45 L1549.38 1689.02 L1551.11 1690.58 L1552.85 1692.13 L1554.59 1693.67 L1556.35 1695.2 L1558.12 1696.71 L1559.89 1698.22 L1561.68 1699.72 L1563.47 1701.2 L1565.28 1702.68 L1567.09 1704.14 L1568.91 1705.59 L1570.74 1707.03 L1572.59 1708.46 L1574.43 1709.88 L1576.29 1711.29 L1578.16 1712.69 L1580.03 1714.08 L1581.92 1715.45 L1583.81 1716.82 L1585.71 1718.17 L1587.62 1719.51 L1589.53 1720.84 L1591.45 1722.16 L1593.39 1723.47 L1595.32 1724.77 L1597.27 1726.06 L1599.23 1727.33 L1601.19 1728.6 L1603.16 1729.85 L1605.13 1731.09 L1607.11 1732.32 L1609.1 1733.54 L1611.1 1734.75 L1613.11 1735.95 L1615.12 1737.13 L1617.13 1738.31 L1619.16 1739.47 L1621.19 1740.62 L1623.22 1741.76 L1625.27 1742.89 L1627.31 1744.01 L1629.37 1745.11 L1631.43 1746.21 L1633.5 1747.29 L1635.57 1748.37 L1637.65 1749.43 L1639.73 1750.48 L1641.82 1751.53 L1643.92 1752.56 L1646.02 1753.58 L1648.13 1754.59 L1650.24 1755.59 L1652.36 1756.58 L1654.48 1757.56 L1656.61 1758.53 L1658.75 1759.49 L1660.88 1760.44 L1663.03 1761.39 L1665.18 1762.32 L1667.33 1763.24 L1669.49 1764.15 L1671.65 1765.05 L1673.82 1765.94 L1675.99 1766.83 L1678.17 1767.7 L1680.35 1768.57 L1682.53 1769.42 L1684.72 1770.27 L1686.92 1771.11 L1689.12 1771.93 L1691.32 1772.75 L1693.52 1773.57 L1695.73 1774.37 L1697.95 1775.16 L1700.17 1775.95 L1702.39 1776.72 L1704.61 1777.49 L1706.84 1778.25 L1709.07 1779 L1711.31 1779.74 L1713.55 1780.48 L1715.79 1781.2 L1718.03 1781.92 L1720.28 1782.63 L1722.53 1783.34 L1724.79 1784.03 L1727.04 1784.72 L1729.3 1785.4 L1731.57 1786.07 L1733.83 1786.73 L1736.1 1787.39 L1738.37 1788.04 L1740.64 1788.68 L1742.92 1789.32 L1745.2 1789.94 L1747.48 1790.56 L1749.76 1791.18 L1752.04 1791.78 L1754.33 1792.38 L1756.62 1792.98 L1758.91 1793.56 L1761.2 1794.14 L1763.49 1794.72 L1765.79 1795.28 L1768.09 1795.84 L1770.38 1796.4 L1772.68 1796.94 L1774.99 1797.48 L1777.29 1798.02 L1779.59 1798.55 L1781.9 1799.07 L1784.2 1799.59 L1786.51 1800.1 L1788.82 1800.6 L1791.13 1801.1 L1793.44 1801.6 L1795.75 1802.09 L1798.06 1802.57 L1800.37 1803.05 L1802.68 1803.52 L1805 1803.98 L1807.31 1804.44 L1809.62 1804.9 L1811.94 1805.35 L1814.25 1805.8 L1816.56 1806.24 L1818.88 1806.68 L1821.19 1807.11 L1823.5 1807.53 L1825.82 1807.96 L1828.13 1808.37 L1830.45 1808.79 L1832.76 1809.19 L1835.07 1809.6 L1837.39 1810 L1839.7 1810.39 L1842.01 1810.78 L1844.33 1811.17 L1846.64 1811.55 L1848.95 1811.93 L1851.27 1812.3 L1853.58 1812.67 L1855.89 1813.03 L1858.21 1813.39 L1860.52 1813.75 L1862.83 1814.1 L1865.15 1814.44 L1867.46 1814.79 L1869.77 1815.13 L1872.09 1815.46 L1874.4 1815.79 L1876.71 1816.12 L1879.03 1816.44 L1881.34 1816.76 L1883.66 1817.08 L1885.97 1817.39 L1888.28 1817.7 L1890.6 1818 L1892.91 1818.3 L1895.23 1818.6 L1897.54 1818.9 L1899.86 1819.18 L1902.17 1819.47 L1904.49 1819.75 L1906.8 1820.03 L1909.12 1820.31 L1911.44 1820.58 L1913.75 1820.85 L1916.07 1821.12 L1918.38 1821.38 L1920.7 1821.64 L1923.02 1821.89 L1925.34 1822.15 L1927.65 1822.39 L1929.97 1822.64 L1932.29 1822.88 L1934.61 1823.12 L1936.92 1823.36 L1939.24 1823.6 L1941.56 1823.83 L1943.88 1824.05 L1946.2 1824.28 L1948.52 1824.5 L1950.84 1824.72 L1953.16 1824.94 L1955.48 1825.15 L1957.8 1825.36 L1960.12 1825.57 L1962.45 1825.78 L1964.77 1825.98 L1967.09 1826.18 L1969.41 1826.38 L1971.74 1826.58 L1974.06 1826.77 L1976.38 1826.96 L1978.71 1827.15 L1981.03 1827.34 L1983.36 1827.52 L1985.68 1827.7 L1988.01 1827.88 L1990.34 1828.06 L1992.66 1828.23 L1994.99 1828.41 L1997.32 1828.58 L1999.64 1828.74 L2001.97 1828.91 L2004.3 1829.08 L2006.63 1829.24 L2008.96 1829.4 L2011.29 1829.56 L2013.62 1829.71 L2015.95 1829.87 L2018.29 1830.02 L2020.62 1830.17 L2022.95 1830.32 L2025.29 1830.47 L2027.62 1830.62 L2029.95 1830.76 L2032.29 1830.9 L2034.62 1831.05 L2036.96 1831.19 L2039.3 1831.32 L2041.64 1831.46 L2043.97 1831.6 L2046.31 1831.73 L2048.65 1831.86 L2050.99 1831.99 L2053.33 1832.12 L2055.67 1832.25 L2058.01 1832.38 L2060.36 1832.51 L2062.7 1832.63 L2065.04 1832.76 L2067.39 1832.88 L2069.73 1833 L2072.08 1833.12 L2074.42 1833.24 L2076.77 1833.36 L2079.12 1833.48 L2081.47 1833.6 L2083.82 1833.72 L2086.16 1833.83 L2088.52 1833.95 L2090.87 1834.06 L2093.22 1834.18 L2095.57 1834.29 L2097.92 1834.4 L2100.28 1834.51 L2102.63 1834.62 L2104.99 1834.74 L2107.35 1834.85 L2109.7 1834.96 L2112.06 1835.07 L2114.42 1835.17 L2116.78 1835.28 L2119.14 1835.39 L2121.5 1835.5" fill="none" stroke="#0000ff" stroke-width="6.25" stroke-linecap="square" stroke-linejoin="round"/></g>
<rect x="1315.5" y="1134.5" width="845" height="735" fill="none" stroke="#000000" stroke-width="3.33" stroke-linejoin="miter"/>
</g>
<g id="labels" style="opacity:0.999">
<text x="307.39" y="1049.37" font-size="46.5" textLength="63.1" lengthAdjust="spacingAndGlyphs">0.0</text>
<text x="537.99" y="1049.81" font-size="46.5" textLength="63.04" lengthAdjust="spacingAndGlyphs">0.5</text>
<text x="768.64" y="1048.95" font-size="46.5" textLength="62.99" lengthAdjust="spacingAndGlyphs">1.0</text>
<text x="999.24" y="1050.37" font-size="46.5" textLength="62.94" lengthAdjust="spacingAndGlyphs">1.5</text>
<text x="184.94" y="935.47" font-size="46.5" textLength="83.81" lengthAdjust="spacingAndGlyphs">−80</text>
<text x="185.09" y="803.13" font-size="46.5" textLength="83.65" lengthAdjust="spacingAndGlyphs">−60</text>
<text x="185.09" y="671.41" font-size="46.5" textLength="83.65" lengthAdjust="spacingAndGlyphs">−40</text>
<text x="185.19" y="539.99" font-size="46.5" textLength="84.58" lengthAdjust="spacingAndGlyphs">−20</text>
<text x="246.48" y="407.92" font-size="46.5" textLength="24.2" lengthAdjust="spacingAndGlyphs">0</text>
<text x="219.04" y="275.48" font-size="46.5" textLength="50.72" lengthAdjust="spacingAndGlyphs">20</text>
<text x="564.73" y="1107.95" font-size="44.5" textLength="314.99" lengthAdjust="spacingAndGlyphs">Time (minutes)</text>
<text transform="translate(154.14 809) rotate(-90)" font-size="44.5" textLength="300" lengthAdjust="spacingAndGlyphs">Temperature (</text>
<text transform="translate(145.07 498) rotate(-90)" font-size="32" textLength="12.8" lengthAdjust="spacingAndGlyphs">°</text>
<text transform="translate(153.63 476.11) rotate(-90)" font-size="44.5" textLength="44.21" lengthAdjust="spacingAndGlyphs">C)</text>
<text x="686.7" y="474.64" font-size="44.5" textLength="97.6" lengthAdjust="spacingAndGlyphs">Fluid</text>
<text x="685.63" y="538.24" font-size="44.5" textLength="130.47" lengthAdjust="spacingAndGlyphs">Vessel</text>
<text x="685.62" y="599.66" font-size="44.5" textLength="183.38" lengthAdjust="spacingAndGlyphs">Gas high</text>
<text x="685.64" y="662.69" font-size="44.5" textLength="162.61" lengthAdjust="spacingAndGlyphs">Gas low</text>
<text x="686.63" y="725.55" font-size="44.5" textLength="188.84" lengthAdjust="spacingAndGlyphs">Wall high</text>
<text x="686.63" y="788.51" font-size="44.5" textLength="168.12" lengthAdjust="spacingAndGlyphs">Wall low</text>
<text x="1321.92" y="1049.37" font-size="46.5" textLength="64.11" lengthAdjust="spacingAndGlyphs">0.0</text>
<text x="1552.53" y="1049.81" font-size="46.5" textLength="62.04" lengthAdjust="spacingAndGlyphs">0.5</text>
<text x="1783.14" y="1048.95" font-size="46.5" textLength="64.04" lengthAdjust="spacingAndGlyphs">1.0</text>
<text x="2013.81" y="1050.37" font-size="46.5" textLength="61.91" lengthAdjust="spacingAndGlyphs">1.5</text>
<text x="1261.06" y="975.82" font-size="46.5" textLength="24.2" lengthAdjust="spacingAndGlyphs">0</text>
<text x="1233.61" y="863.72" font-size="46.5" textLength="50.67" lengthAdjust="spacingAndGlyphs">25</text>
<text x="1233.42" y="752" font-size="46.5" textLength="50.86" lengthAdjust="spacingAndGlyphs">50</text>
<text x="1233.66" y="640.34" font-size="46.5" textLength="49.57" lengthAdjust="spacingAndGlyphs">75</text>
<text x="1208.01" y="525.94" font-size="46.5" textLength="76.28" lengthAdjust="spacingAndGlyphs">100</text>
<text x="1208.17" y="413.68" font-size="46.5" textLength="76.11" lengthAdjust="spacingAndGlyphs">125</text>
<text x="1208.01" y="300.56" font-size="46.5" textLength="76.28" lengthAdjust="spacingAndGlyphs">150</text>
<text x="1579.28" y="1107.95" font-size="44.5" textLength="314.99" lengthAdjust="spacingAndGlyphs">Time (minutes)</text>
<text transform="translate(1179.31 766.86) rotate(-90)" font-size="44.5" textLength="291.73" lengthAdjust="spacingAndGlyphs">Pressure (bar)</text>
<text x="1845.02" y="323.42" font-size="44.5" textLength="218.71" lengthAdjust="spacingAndGlyphs">Calculated</text>
<text x="1845.01" y="385.09" font-size="44.5" textLength="276.47" lengthAdjust="spacingAndGlyphs">Experimental</text>
<text x="307.39" y="1931.37" font-size="46.5" textLength="63.1" lengthAdjust="spacingAndGlyphs">0.0</text>
<text x="537.99" y="1931.81" font-size="46.5" textLength="63.04" lengthAdjust="spacingAndGlyphs">0.5</text>
<text x="768.64" y="1930.95" font-size="46.5" textLength="62.99" lengthAdjust="spacingAndGlyphs">1.0</text>
<text x="999.24" y="1932.37" font-size="46.5" textLength="62.94" lengthAdjust="spacingAndGlyphs">1.5</text>
<text x="112.98" y="1770.44" font-size="46.5" textLength="156.82" lengthAdjust="spacingAndGlyphs">200000</text>
<text x="112.75" y="1642.66" font-size="46.5" textLength="156.05" lengthAdjust="spacingAndGlyphs">300000</text>
<text x="112.86" y="1512.88" font-size="46.5" textLength="155.94" lengthAdjust="spacingAndGlyphs">400000</text>
<text x="112.88" y="1385.85" font-size="46.5" textLength="155.92" lengthAdjust="spacingAndGlyphs">500000</text>
<text x="113.88" y="1256.62" font-size="46.5" textLength="155.92" lengthAdjust="spacingAndGlyphs">600000</text>
<text x="564.73" y="1989.95" font-size="44.5" textLength="314.99" lengthAdjust="spacingAndGlyphs">Time (minutes)</text>
<text transform="translate(85.37 1848.87) rotate(-90)" font-size="44.5" textLength="691.75" lengthAdjust="spacingAndGlyphs">Enthalpy/Internal Energy/Entropy</text>
<text x="818.87" y="1449.68" font-size="44.5" textLength="151.92" lengthAdjust="spacingAndGlyphs">H (J/kg)</text>
<text x="818.85" y="1512.71" font-size="44.5" textLength="152.08" lengthAdjust="spacingAndGlyphs">U (J/kg)</text>
<text x="818.84" y="1575.77" font-size="44.5" textLength="289.11" lengthAdjust="spacingAndGlyphs">S*100 (J/kg K)</text>
<text x="1321.92" y="1931.37" font-size="46.5" textLength="64.11" lengthAdjust="spacingAndGlyphs">0.0</text>
<text x="1552.53" y="1931.81" font-size="46.5" textLength="62.04" lengthAdjust="spacingAndGlyphs">0.5</text>
<text x="1783.14" y="1930.95" font-size="46.5" textLength="64.04" lengthAdjust="spacingAndGlyphs">1.0</text>
<text x="2013.81" y="1932.37" font-size="46.5" textLength="61.91" lengthAdjust="spacingAndGlyphs">1.5</text>
<text x="1221.19" y="1854.7" font-size="46.5" textLength="64.15" lengthAdjust="spacingAndGlyphs">0.0</text>
<text x="1221.37" y="1700.82" font-size="46.5" textLength="61.86" lengthAdjust="spacingAndGlyphs">0.2</text>
<text x="1221.22" y="1545.82" font-size="46.5" textLength="63.1" lengthAdjust="spacingAndGlyphs">0.4</text>
<text x="1221.19" y="1391.74" font-size="46.5" textLength="64.11" lengthAdjust="spacingAndGlyphs">0.6</text>
<text x="1221.07" y="1237.9" font-size="46.5" textLength="64.23" lengthAdjust="spacingAndGlyphs">0.8</text>
<text x="1579.28" y="1989.95" font-size="44.5" textLength="314.99" lengthAdjust="spacingAndGlyphs">Time (minutes)</text>
<text transform="translate(1192.41 1664.25) rotate(-90)" font-size="44.5" textLength="323.5" lengthAdjust="spacingAndGlyphs">Vent rate (kg/s)</text>
</g>
</svg></body></html>
